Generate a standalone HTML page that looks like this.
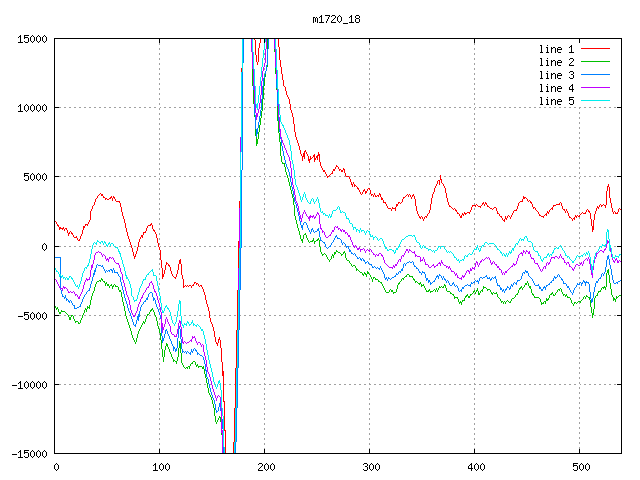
<!DOCTYPE html><html><head><meta charset="utf-8"><title>m1720_18</title><style>html,body{margin:0;padding:0;background:#fff;width:640px;height:480px;overflow:hidden}svg{display:block}</style></head><body><svg width="640" height="480" viewBox="0 0 640 480" shape-rendering="crispEdges"><path fill="#a0a0a0" d="M159 43h1v2h-1zM369 43h1v2h-1zM474 43h1v2h-1zM159 48h1v2h-1zM369 48h1v2h-1zM474 48h1v2h-1zM159 53h1v2h-1zM264 53h1v2h-1zM369 53h1v2h-1zM474 53h1v2h-1zM159 58h1v2h-1zM264 58h1v2h-1zM369 58h1v2h-1zM474 58h1v2h-1zM159 63h1v2h-1zM369 63h1v2h-1zM474 63h1v2h-1zM159 68h1v2h-1zM264 68h1v2h-1zM369 68h1v2h-1zM474 68h1v2h-1zM264 73h1v1h-1zM159 73h1v2h-1zM369 73h1v2h-1zM474 73h1v2h-1zM159 78h1v2h-1zM369 78h1v2h-1zM474 78h1v2h-1zM159 83h1v2h-1zM369 83h1v2h-1zM474 83h1v2h-1zM159 88h1v2h-1zM264 88h1v2h-1zM369 88h1v2h-1zM474 88h1v2h-1zM159 93h1v2h-1zM264 93h1v2h-1zM369 93h1v2h-1zM474 93h1v2h-1zM159 98h1v2h-1zM264 98h1v2h-1zM369 98h1v2h-1zM474 98h1v2h-1zM159 103h1v2h-1zM264 103h1v2h-1zM369 103h1v2h-1zM474 103h1v2h-1zM59 107h2v1h-2zM64 107h2v1h-2zM69 107h2v1h-2zM74 107h2v1h-2zM79 107h2v1h-2zM84 107h2v1h-2zM89 107h2v1h-2zM94 107h2v1h-2zM99 107h2v1h-2zM104 107h2v1h-2zM109 107h2v1h-2zM114 107h2v1h-2zM119 107h2v1h-2zM124 107h2v1h-2zM129 107h2v1h-2zM134 107h2v1h-2zM139 107h2v1h-2zM144 107h2v1h-2zM149 107h2v1h-2zM154 107h2v1h-2zM160 107h1v1h-1zM164 107h2v1h-2zM169 107h2v1h-2zM174 107h2v1h-2zM179 107h2v1h-2zM184 107h2v1h-2zM189 107h2v1h-2zM194 107h2v1h-2zM199 107h2v1h-2zM204 107h2v1h-2zM209 107h2v1h-2zM214 107h2v1h-2zM219 107h2v1h-2zM224 107h2v1h-2zM229 107h2v1h-2zM234 107h2v1h-2zM239 107h2v1h-2zM244 107h2v1h-2zM249 107h2v1h-2zM260 107h1v1h-1zM265 107h1v1h-1zM269 107h2v1h-2zM274 107h2v1h-2zM280 107h1v1h-1zM284 107h2v1h-2zM289 107h1v1h-1zM294 107h2v1h-2zM299 107h2v1h-2zM304 107h2v1h-2zM309 107h2v1h-2zM314 107h2v1h-2zM319 107h2v1h-2zM324 107h2v1h-2zM329 107h2v1h-2zM334 107h2v1h-2zM339 107h2v1h-2zM344 107h2v1h-2zM349 107h2v1h-2zM354 107h2v1h-2zM359 107h2v1h-2zM364 107h2v1h-2zM370 107h1v1h-1zM374 107h2v1h-2zM379 107h2v1h-2zM384 107h2v1h-2zM389 107h2v1h-2zM394 107h2v1h-2zM399 107h2v1h-2zM404 107h2v1h-2zM409 107h2v1h-2zM414 107h2v1h-2zM419 107h2v1h-2zM424 107h2v1h-2zM429 107h2v1h-2zM434 107h2v1h-2zM439 107h2v1h-2zM444 107h2v1h-2zM449 107h2v1h-2zM454 107h2v1h-2zM459 107h2v1h-2zM464 107h2v1h-2zM469 107h2v1h-2zM475 107h1v1h-1zM479 107h2v1h-2zM484 107h2v1h-2zM489 107h2v1h-2zM494 107h2v1h-2zM499 107h2v1h-2zM504 107h2v1h-2zM509 107h2v1h-2zM514 107h2v1h-2zM519 107h2v1h-2zM524 107h2v1h-2zM529 107h2v1h-2zM534 107h2v1h-2zM539 107h2v1h-2zM544 107h2v1h-2zM549 107h2v1h-2zM554 107h2v1h-2zM559 107h2v1h-2zM564 107h2v1h-2zM569 107h2v1h-2zM574 107h2v1h-2zM579 107h2v1h-2zM584 107h2v1h-2zM589 107h2v1h-2zM594 107h2v1h-2zM599 107h2v1h-2zM604 107h2v1h-2zM609 107h2v1h-2zM614 107h2v1h-2zM579 108h1v1h-1zM159 108h1v2h-1zM264 108h1v2h-1zM369 108h1v2h-1zM474 108h1v2h-1zM579 112h1v2h-1zM159 113h1v2h-1zM264 113h1v2h-1zM369 113h1v2h-1zM474 113h1v2h-1zM579 117h1v2h-1zM159 118h1v2h-1zM264 118h1v2h-1zM369 118h1v2h-1zM474 118h1v2h-1zM579 122h1v2h-1zM159 123h1v2h-1zM264 123h1v2h-1zM369 123h1v2h-1zM474 123h1v2h-1zM579 127h1v2h-1zM159 128h1v2h-1zM264 128h1v2h-1zM369 128h1v2h-1zM474 128h1v2h-1zM579 132h1v2h-1zM159 133h1v2h-1zM264 133h1v2h-1zM369 133h1v2h-1zM474 133h1v2h-1zM579 137h1v2h-1zM159 138h1v2h-1zM264 138h1v2h-1zM369 138h1v2h-1zM474 138h1v2h-1zM579 142h1v2h-1zM159 143h1v2h-1zM264 143h1v2h-1zM369 143h1v2h-1zM474 143h1v2h-1zM579 147h1v2h-1zM159 148h1v2h-1zM264 148h1v2h-1zM369 148h1v2h-1zM474 148h1v2h-1zM579 152h1v2h-1zM159 153h1v2h-1zM264 153h1v2h-1zM369 153h1v2h-1zM474 153h1v2h-1zM579 157h1v2h-1zM159 158h1v2h-1zM264 158h1v2h-1zM369 158h1v2h-1zM474 158h1v2h-1zM579 162h1v2h-1zM159 163h1v2h-1zM264 163h1v2h-1zM369 163h1v2h-1zM474 163h1v2h-1zM579 167h1v2h-1zM159 168h1v2h-1zM264 168h1v2h-1zM369 168h1v2h-1zM474 168h1v2h-1zM579 172h1v2h-1zM159 173h1v2h-1zM264 173h1v2h-1zM369 173h1v2h-1zM474 173h1v2h-1zM59 176h2v1h-2zM64 176h2v1h-2zM69 176h2v1h-2zM74 176h2v1h-2zM79 176h2v1h-2zM84 176h2v1h-2zM89 176h2v1h-2zM94 176h2v1h-2zM99 176h2v1h-2zM104 176h2v1h-2zM109 176h2v1h-2zM114 176h2v1h-2zM119 176h2v1h-2zM124 176h2v1h-2zM129 176h2v1h-2zM134 176h2v1h-2zM139 176h2v1h-2zM144 176h2v1h-2zM149 176h2v1h-2zM154 176h2v1h-2zM160 176h1v1h-1zM164 176h2v1h-2zM169 176h2v1h-2zM174 176h2v1h-2zM179 176h2v1h-2zM184 176h2v1h-2zM189 176h2v1h-2zM194 176h2v1h-2zM199 176h2v1h-2zM204 176h2v1h-2zM209 176h2v1h-2zM214 176h2v1h-2zM219 176h2v1h-2zM224 176h2v1h-2zM229 176h2v1h-2zM234 176h2v1h-2zM239 176h1v1h-1zM244 176h2v1h-2zM249 176h2v1h-2zM254 176h2v1h-2zM259 176h2v1h-2zM265 176h1v1h-1zM269 176h2v1h-2zM274 176h2v1h-2zM279 176h2v1h-2zM284 176h2v1h-2zM289 176h1v1h-1zM295 176h1v1h-1zM299 176h2v1h-2zM304 176h2v1h-2zM309 176h2v1h-2zM314 176h2v1h-2zM319 176h2v1h-2zM324 176h2v1h-2zM329 176h2v1h-2zM334 176h2v1h-2zM339 176h2v1h-2zM344 176h2v1h-2zM349 176h2v1h-2zM354 176h2v1h-2zM359 176h2v1h-2zM364 176h2v1h-2zM370 176h1v1h-1zM374 176h2v1h-2zM379 176h2v1h-2zM384 176h2v1h-2zM389 176h2v1h-2zM394 176h2v1h-2zM399 176h2v1h-2zM404 176h2v1h-2zM409 176h2v1h-2zM414 176h2v1h-2zM419 176h2v1h-2zM424 176h2v1h-2zM429 176h2v1h-2zM434 176h2v1h-2zM439 176h1v1h-1zM444 176h2v1h-2zM449 176h2v1h-2zM454 176h2v1h-2zM459 176h2v1h-2zM464 176h2v1h-2zM469 176h2v1h-2zM475 176h1v1h-1zM479 176h2v1h-2zM484 176h2v1h-2zM489 176h2v1h-2zM494 176h2v1h-2zM499 176h2v1h-2zM504 176h2v1h-2zM509 176h2v1h-2zM514 176h2v1h-2zM519 176h2v1h-2zM524 176h2v1h-2zM529 176h2v1h-2zM534 176h2v1h-2zM539 176h2v1h-2zM544 176h2v1h-2zM549 176h2v1h-2zM554 176h2v1h-2zM559 176h2v1h-2zM564 176h2v1h-2zM569 176h2v1h-2zM574 176h2v1h-2zM580 176h1v1h-1zM584 176h2v1h-2zM589 176h2v1h-2zM594 176h2v1h-2zM599 176h2v1h-2zM604 176h2v1h-2zM609 176h2v1h-2zM614 176h2v1h-2zM579 177h1v2h-1zM159 178h1v2h-1zM264 178h1v2h-1zM369 178h1v2h-1zM474 178h1v2h-1zM579 182h1v2h-1zM159 183h1v2h-1zM264 183h1v2h-1zM369 183h1v2h-1zM474 183h1v2h-1zM579 187h1v2h-1zM159 188h1v2h-1zM264 188h1v2h-1zM474 188h1v2h-1zM579 192h1v2h-1zM159 193h1v2h-1zM264 193h1v2h-1zM369 193h1v2h-1zM474 193h1v2h-1zM579 197h1v2h-1zM159 198h1v2h-1zM264 198h1v2h-1zM369 198h1v2h-1zM474 198h1v2h-1zM579 202h1v2h-1zM159 203h1v2h-1zM264 203h1v2h-1zM369 203h1v2h-1zM474 203h1v2h-1zM579 207h1v2h-1zM159 208h1v2h-1zM264 208h1v2h-1zM369 208h1v2h-1zM474 208h1v2h-1zM579 212h1v2h-1zM159 213h1v2h-1zM264 213h1v2h-1zM369 213h1v2h-1zM474 213h1v2h-1zM579 217h1v2h-1zM159 218h1v2h-1zM264 218h1v2h-1zM369 218h1v2h-1zM474 218h1v2h-1zM579 222h1v2h-1zM159 223h1v2h-1zM264 223h1v2h-1zM369 223h1v2h-1zM474 223h1v2h-1zM579 227h1v2h-1zM159 228h1v2h-1zM264 228h1v2h-1zM369 228h1v2h-1zM474 228h1v2h-1zM579 232h1v2h-1zM159 233h1v2h-1zM264 233h1v2h-1zM369 234h1v1h-1zM474 233h1v2h-1zM579 237h1v2h-1zM159 238h1v2h-1zM264 238h1v2h-1zM369 238h1v2h-1zM474 238h1v2h-1zM579 242h1v2h-1zM159 243h1v2h-1zM264 243h1v2h-1zM369 243h1v2h-1zM474 243h1v2h-1zM59 246h2v1h-2zM64 246h2v1h-2zM69 246h2v1h-2zM74 246h2v1h-2zM79 246h2v1h-2zM84 246h2v1h-2zM89 246h2v1h-2zM94 246h2v1h-2zM99 246h2v1h-2zM104 246h2v1h-2zM109 246h2v1h-2zM115 246h1v1h-1zM119 246h2v1h-2zM124 246h2v1h-2zM129 246h2v1h-2zM134 246h2v1h-2zM139 246h2v1h-2zM144 246h2v1h-2zM149 246h2v1h-2zM154 246h2v1h-2zM160 246h1v1h-1zM164 246h2v1h-2zM169 246h2v1h-2zM174 246h2v1h-2zM179 246h2v1h-2zM184 246h2v1h-2zM189 246h2v1h-2zM194 246h2v1h-2zM199 246h2v1h-2zM204 246h2v1h-2zM209 246h2v1h-2zM214 246h2v1h-2zM219 246h2v1h-2zM224 246h2v1h-2zM229 246h2v1h-2zM234 246h2v1h-2zM244 246h2v1h-2zM249 246h2v1h-2zM254 246h2v1h-2zM259 246h2v1h-2zM265 246h1v1h-1zM269 246h2v1h-2zM274 246h2v1h-2zM279 246h2v1h-2zM284 246h2v1h-2zM289 246h2v1h-2zM294 246h2v1h-2zM299 246h2v1h-2zM304 246h2v1h-2zM309 246h2v1h-2zM314 246h2v1h-2zM320 246h1v1h-1zM324 246h1v1h-1zM334 246h2v1h-2zM339 246h2v1h-2zM344 246h2v1h-2zM349 246h2v1h-2zM355 246h1v1h-1zM359 246h2v1h-2zM364 246h2v1h-2zM370 246h1v1h-1zM374 246h2v1h-2zM379 246h2v1h-2zM385 246h1v1h-1zM389 246h2v1h-2zM394 246h2v1h-2zM400 246h1v1h-1zM404 246h2v1h-2zM409 246h2v1h-2zM414 246h2v1h-2zM419 246h1v1h-1zM425 246h1v1h-1zM429 246h2v1h-2zM434 246h2v1h-2zM440 246h1v1h-1zM444 246h2v1h-2zM449 246h2v1h-2zM454 246h2v1h-2zM459 246h2v1h-2zM464 246h2v1h-2zM469 246h2v1h-2zM475 246h1v1h-1zM479 246h2v1h-2zM484 246h2v1h-2zM489 246h2v1h-2zM494 246h2v1h-2zM499 246h2v1h-2zM504 246h2v1h-2zM509 246h2v1h-2zM515 246h1v1h-1zM519 246h2v1h-2zM524 246h2v1h-2zM529 246h2v1h-2zM534 246h2v1h-2zM539 246h2v1h-2zM544 246h2v1h-2zM549 246h2v1h-2zM554 246h2v1h-2zM560 246h1v1h-1zM564 246h2v1h-2zM569 246h2v1h-2zM574 246h2v1h-2zM580 246h1v1h-1zM584 246h2v1h-2zM589 246h2v1h-2zM594 246h2v1h-2zM599 246h1v1h-1zM604 246h1v1h-1zM614 246h2v1h-2zM474 248h1v1h-1zM579 247h1v2h-1zM264 248h1v2h-1zM369 248h1v2h-1zM579 252h1v2h-1zM159 253h1v2h-1zM264 253h1v2h-1zM369 253h1v2h-1zM474 253h1v2h-1zM579 257h1v2h-1zM159 258h1v2h-1zM264 258h1v2h-1zM369 258h1v2h-1zM474 258h1v2h-1zM369 263h1v1h-1zM579 262h1v2h-1zM159 263h1v2h-1zM264 263h1v2h-1zM474 263h1v2h-1zM579 267h1v2h-1zM159 268h1v2h-1zM264 268h1v2h-1zM369 268h1v2h-1zM369 273h1v1h-1zM579 272h1v2h-1zM159 273h1v2h-1zM264 273h1v2h-1zM474 273h1v2h-1zM579 277h1v2h-1zM159 278h1v2h-1zM264 278h1v2h-1zM369 278h1v2h-1zM474 278h1v2h-1zM579 282h1v1h-1zM159 283h1v2h-1zM264 283h1v2h-1zM369 283h1v2h-1zM474 283h1v2h-1zM579 287h1v2h-1zM159 288h1v2h-1zM264 288h1v2h-1zM369 288h1v2h-1zM474 288h1v2h-1zM579 292h1v2h-1zM264 293h1v2h-1zM369 293h1v2h-1zM474 293h1v2h-1zM579 297h1v2h-1zM159 298h1v2h-1zM264 298h1v2h-1zM369 298h1v2h-1zM474 298h1v2h-1zM579 302h1v2h-1zM264 303h1v2h-1zM369 303h1v2h-1zM474 303h1v2h-1zM579 307h1v2h-1zM159 308h1v2h-1zM264 308h1v2h-1zM369 308h1v2h-1zM474 308h1v2h-1zM579 312h1v2h-1zM264 313h1v2h-1zM369 313h1v2h-1zM474 313h1v2h-1zM59 315h2v1h-2zM64 315h2v1h-2zM69 315h2v1h-2zM74 315h2v1h-2zM79 315h2v1h-2zM84 315h2v1h-2zM89 315h2v1h-2zM94 315h2v1h-2zM99 315h2v1h-2zM104 315h2v1h-2zM109 315h2v1h-2zM114 315h2v1h-2zM119 315h2v1h-2zM124 315h1v1h-1zM129 315h1v1h-1zM135 315h1v1h-1zM140 315h1v1h-1zM144 315h2v1h-2zM149 315h2v1h-2zM154 315h1v1h-1zM164 315h2v1h-2zM169 315h1v1h-1zM174 315h2v1h-2zM179 315h1v1h-1zM184 315h2v1h-2zM189 315h2v1h-2zM194 315h2v1h-2zM199 315h2v1h-2zM204 315h2v1h-2zM210 315h1v1h-1zM214 315h2v1h-2zM219 315h2v1h-2zM224 315h2v1h-2zM229 315h2v1h-2zM234 315h2v1h-2zM240 315h1v1h-1zM244 315h2v1h-2zM249 315h2v1h-2zM254 315h2v1h-2zM259 315h2v1h-2zM265 315h1v1h-1zM269 315h2v1h-2zM274 315h2v1h-2zM279 315h2v1h-2zM284 315h2v1h-2zM289 315h2v1h-2zM294 315h2v1h-2zM299 315h2v1h-2zM304 315h2v1h-2zM309 315h2v1h-2zM314 315h2v1h-2zM319 315h2v1h-2zM324 315h2v1h-2zM329 315h2v1h-2zM334 315h2v1h-2zM339 315h2v1h-2zM344 315h2v1h-2zM349 315h2v1h-2zM354 315h2v1h-2zM359 315h2v1h-2zM364 315h2v1h-2zM370 315h1v1h-1zM374 315h2v1h-2zM379 315h2v1h-2zM384 315h2v1h-2zM389 315h2v1h-2zM394 315h2v1h-2zM399 315h2v1h-2zM404 315h2v1h-2zM409 315h2v1h-2zM414 315h2v1h-2zM419 315h2v1h-2zM424 315h2v1h-2zM429 315h2v1h-2zM434 315h2v1h-2zM439 315h2v1h-2zM444 315h2v1h-2zM449 315h2v1h-2zM454 315h2v1h-2zM459 315h2v1h-2zM464 315h2v1h-2zM469 315h2v1h-2zM475 315h1v1h-1zM479 315h2v1h-2zM484 315h2v1h-2zM489 315h2v1h-2zM494 315h2v1h-2zM499 315h2v1h-2zM504 315h2v1h-2zM509 315h2v1h-2zM514 315h2v1h-2zM519 315h2v1h-2zM524 315h2v1h-2zM529 315h2v1h-2zM534 315h2v1h-2zM539 315h2v1h-2zM544 315h2v1h-2zM549 315h2v1h-2zM554 315h2v1h-2zM559 315h2v1h-2zM564 315h2v1h-2zM569 315h2v1h-2zM574 315h2v1h-2zM580 315h1v1h-1zM584 315h2v1h-2zM589 315h2v1h-2zM594 315h2v1h-2zM599 315h2v1h-2zM604 315h2v1h-2zM609 315h2v1h-2zM614 315h2v1h-2zM579 317h1v2h-1zM159 318h1v2h-1zM264 318h1v2h-1zM369 318h1v2h-1zM474 318h1v2h-1zM579 322h1v2h-1zM159 323h1v2h-1zM264 323h1v2h-1zM369 323h1v2h-1zM474 323h1v2h-1zM159 328h1v1h-1zM579 327h1v2h-1zM264 328h1v2h-1zM369 328h1v2h-1zM474 328h1v2h-1zM579 332h1v2h-1zM159 333h1v2h-1zM264 333h1v2h-1zM369 333h1v2h-1zM474 333h1v2h-1zM579 337h1v2h-1zM159 338h1v2h-1zM264 338h1v2h-1zM369 338h1v2h-1zM474 338h1v2h-1zM579 342h1v2h-1zM159 343h1v2h-1zM264 343h1v2h-1zM369 343h1v2h-1zM474 343h1v2h-1zM579 347h1v2h-1zM159 348h1v2h-1zM264 348h1v2h-1zM369 348h1v2h-1zM474 348h1v2h-1zM579 352h1v2h-1zM159 353h1v2h-1zM264 353h1v2h-1zM369 353h1v2h-1zM474 353h1v2h-1zM579 357h1v2h-1zM159 358h1v2h-1zM264 358h1v2h-1zM369 358h1v2h-1zM474 358h1v2h-1zM579 362h1v2h-1zM159 363h1v2h-1zM264 363h1v2h-1zM369 363h1v2h-1zM474 363h1v2h-1zM579 367h1v2h-1zM159 368h1v2h-1zM264 368h1v2h-1zM369 368h1v2h-1zM474 368h1v2h-1zM579 372h1v2h-1zM159 373h1v2h-1zM264 373h1v2h-1zM369 373h1v2h-1zM474 373h1v2h-1zM579 377h1v2h-1zM159 378h1v2h-1zM264 378h1v2h-1zM369 378h1v2h-1zM474 378h1v2h-1zM159 383h1v1h-1zM264 383h1v1h-1zM369 383h1v1h-1zM474 383h1v1h-1zM579 382h1v2h-1zM59 384h2v1h-2zM64 384h2v1h-2zM69 384h2v1h-2zM74 384h2v1h-2zM79 384h2v1h-2zM84 384h2v1h-2zM89 384h2v1h-2zM94 384h2v1h-2zM99 384h2v1h-2zM104 384h2v1h-2zM109 384h2v1h-2zM114 384h2v1h-2zM119 384h2v1h-2zM124 384h2v1h-2zM129 384h2v1h-2zM134 384h2v1h-2zM139 384h2v1h-2zM144 384h2v1h-2zM149 384h2v1h-2zM154 384h2v1h-2zM159 384h2v1h-2zM164 384h2v1h-2zM169 384h2v1h-2zM174 384h2v1h-2zM179 384h2v1h-2zM184 384h2v1h-2zM189 384h2v1h-2zM194 384h2v1h-2zM199 384h2v1h-2zM204 384h2v1h-2zM210 384h1v1h-1zM214 384h1v1h-1zM219 384h1v1h-1zM224 384h2v1h-2zM229 384h2v1h-2zM234 384h1v1h-1zM239 384h2v1h-2zM244 384h2v1h-2zM249 384h2v1h-2zM254 384h2v1h-2zM259 384h2v1h-2zM264 384h2v1h-2zM269 384h2v1h-2zM274 384h2v1h-2zM279 384h2v1h-2zM284 384h2v1h-2zM289 384h2v1h-2zM294 384h2v1h-2zM299 384h2v1h-2zM304 384h2v1h-2zM309 384h2v1h-2zM314 384h2v1h-2zM319 384h2v1h-2zM324 384h2v1h-2zM329 384h2v1h-2zM334 384h2v1h-2zM339 384h2v1h-2zM344 384h2v1h-2zM349 384h2v1h-2zM354 384h2v1h-2zM359 384h2v1h-2zM364 384h2v1h-2zM369 384h2v1h-2zM374 384h2v1h-2zM379 384h2v1h-2zM384 384h2v1h-2zM389 384h2v1h-2zM394 384h2v1h-2zM399 384h2v1h-2zM404 384h2v1h-2zM409 384h2v1h-2zM414 384h2v1h-2zM419 384h2v1h-2zM424 384h2v1h-2zM429 384h2v1h-2zM434 384h2v1h-2zM439 384h2v1h-2zM444 384h2v1h-2zM449 384h2v1h-2zM454 384h2v1h-2zM459 384h2v1h-2zM464 384h2v1h-2zM469 384h2v1h-2zM474 384h2v1h-2zM479 384h2v1h-2zM484 384h2v1h-2zM489 384h2v1h-2zM494 384h2v1h-2zM499 384h2v1h-2zM504 384h2v1h-2zM509 384h2v1h-2zM514 384h2v1h-2zM519 384h2v1h-2zM524 384h2v1h-2zM529 384h2v1h-2zM534 384h2v1h-2zM539 384h2v1h-2zM544 384h2v1h-2zM549 384h2v1h-2zM554 384h2v1h-2zM559 384h2v1h-2zM564 384h2v1h-2zM569 384h2v1h-2zM574 384h2v1h-2zM580 384h1v1h-1zM584 384h2v1h-2zM589 384h2v1h-2zM594 384h2v1h-2zM599 384h2v1h-2zM604 384h2v1h-2zM609 384h2v1h-2zM614 384h2v1h-2zM579 387h1v2h-1zM159 388h1v2h-1zM264 388h1v2h-1zM369 388h1v2h-1zM474 388h1v2h-1zM579 392h1v2h-1zM159 393h1v2h-1zM264 393h1v2h-1zM369 393h1v2h-1zM474 393h1v2h-1zM579 397h1v2h-1zM159 398h1v2h-1zM264 398h1v2h-1zM369 398h1v2h-1zM474 398h1v2h-1zM579 402h1v2h-1zM159 403h1v2h-1zM264 403h1v2h-1zM369 403h1v2h-1zM474 403h1v2h-1zM579 407h1v2h-1zM159 408h1v2h-1zM264 408h1v2h-1zM369 408h1v2h-1zM474 408h1v2h-1zM579 412h1v2h-1zM159 413h1v2h-1zM264 413h1v2h-1zM369 413h1v2h-1zM474 413h1v2h-1zM579 417h1v2h-1zM159 418h1v2h-1zM264 418h1v2h-1zM369 418h1v2h-1zM474 418h1v2h-1zM579 422h1v2h-1zM159 423h1v2h-1zM264 423h1v2h-1zM369 423h1v2h-1zM474 423h1v2h-1zM579 427h1v2h-1zM159 428h1v2h-1zM264 428h1v2h-1zM369 428h1v2h-1zM474 428h1v2h-1zM579 432h1v2h-1zM159 433h1v2h-1zM264 433h1v2h-1zM369 433h1v2h-1zM474 433h1v2h-1zM579 437h1v2h-1zM159 438h1v2h-1zM264 438h1v2h-1zM369 438h1v2h-1zM474 438h1v2h-1zM579 442h1v2h-1zM159 443h1v2h-1zM264 443h1v2h-1zM369 443h1v2h-1zM474 443h1v2h-1zM159 448h1v1h-1zM264 448h1v1h-1zM369 448h1v1h-1zM474 448h1v1h-1zM579 447h1v2h-1z"/><path fill="#ff0000" d="M254 39h1v1h-1zM260 39h1v4h-1zM278 39h1v8h-1zM259 43h1v5h-1zM581 48h29v1h-29zM255 40h1v15h-1zM279 47h1v13h-1zM256 55h1v7h-1zM258 48h1v14h-1zM257 62h1v3h-1zM280 60h1v7h-1zM241 68h1v4h-1zM281 67h1v7h-1zM282 74h1v6h-1zM283 80h1v6h-1zM284 86h1v1h-1zM285 87h1v4h-1zM286 91h1v4h-1zM287 95h1v2h-1zM288 97h1v2h-1zM289 99h1v5h-1zM290 104h1v6h-1zM291 110h1v3h-1zM292 113h1v4h-1zM293 117h1v7h-1zM294 124h1v8h-1zM295 132h1v5h-1zM296 137h1v3h-1zM297 140h1v3h-1zM298 143h1v3h-1zM299 146h1v4h-1zM305 150h1v1h-1zM304 151h2v1h-2zM304 152h1v1h-1zM300 150h1v4h-1zM306 152h1v2h-1zM318 152h1v2h-1zM314 154h1v1h-1zM318 154h2v1h-2zM301 154h1v2h-1zM303 153h2v3h-2zM307 154h1v2h-1zM317 155h3v1h-3zM302 156h3v1h-3zM313 155h2v2h-2zM310 156h1v2h-1zM312 157h1v1h-1zM314 157h1v1h-1zM316 156h2v2h-2zM304 157h1v2h-1zM308 156h1v3h-1zM310 158h2v1h-2zM308 159h3v1h-3zM314 158h2v2h-2zM317 158h1v2h-1zM302 157h1v4h-1zM308 160h2v1h-2zM314 160h1v2h-1zM319 156h1v6h-1zM309 161h1v2h-1zM320 162h1v4h-1zM336 165h1v1h-1zM336 166h2v1h-2zM321 166h1v2h-1zM335 167h1v2h-1zM338 167h1v2h-1zM343 168h1v1h-1zM322 168h1v2h-1zM339 169h2v1h-2zM343 169h2v1h-2zM333 169h2v2h-2zM339 170h1v1h-1zM323 170h2v2h-2zM341 170h2v2h-2zM332 171h1v2h-1zM344 170h1v3h-1zM325 172h1v2h-1zM331 173h2v1h-2zM330 174h1v1h-1zM326 174h1v2h-1zM329 175h1v1h-1zM345 173h1v3h-1zM327 176h2v1h-2zM346 176h3v1h-3zM327 177h1v1h-1zM349 177h1v2h-1zM440 175h1v4h-1zM440 179h2v1h-2zM438 180h2v1h-2zM350 179h1v3h-1zM441 180h1v3h-1zM351 182h1v2h-1zM353 182h1v2h-1zM437 181h1v3h-1zM442 183h1v1h-1zM351 184h2v1h-2zM354 184h1v1h-1zM439 181h1v4h-1zM354 185h2v1h-2zM436 184h1v2h-1zM443 184h1v2h-1zM608 184h1v2h-1zM352 185h1v2h-1zM354 186h1v1h-1zM356 186h1v1h-1zM607 186h2v1h-2zM357 187h1v1h-1zM435 186h1v2h-1zM444 186h1v2h-1zM357 188h2v1h-2zM368 188h2v1h-2zM358 189h1v1h-1zM364 189h1v1h-1zM369 189h1v1h-1zM363 190h2v1h-2zM367 189h1v2h-1zM607 187h1v4h-1zM359 190h1v2h-1zM363 191h1v1h-1zM434 188h1v4h-1zM365 191h2v2h-2zM445 188h1v5h-1zM100 193h1v1h-1zM360 192h1v2h-1zM362 192h1v2h-1zM365 193h1v1h-1zM370 190h1v4h-1zM379 193h1v1h-1zM433 192h1v2h-1zM99 194h1v1h-1zM361 194h1v1h-1zM371 194h2v1h-2zM374 193h1v2h-1zM379 194h2v1h-2zM407 194h1v1h-1zM409 194h1v1h-1zM413 194h1v1h-1zM98 195h1v1h-1zM101 194h2v2h-2zM371 195h1v1h-1zM375 195h1v1h-1zM377 195h2v1h-2zM406 195h1v1h-1zM412 195h2v1h-2zM103 196h1v1h-1zM111 196h1v1h-1zM113 196h1v1h-1zM373 195h1v2h-1zM375 196h2v1h-2zM378 196h1v1h-1zM380 195h1v2h-1zM405 196h1v1h-1zM408 195h1v2h-1zM410 195h1v2h-1zM412 196h1v1h-1zM523 196h1v1h-1zM97 196h1v2h-1zM103 197h2v1h-2zM110 197h2v1h-2zM113 197h2v1h-2zM381 197h1v1h-1zM403 197h2v1h-2zM432 194h1v4h-1zM446 193h1v5h-1zM523 197h3v1h-3zM609 187h1v11h-1zM96 198h1v1h-1zM105 198h2v1h-2zM109 198h2v1h-2zM114 198h1v1h-1zM403 198h1v1h-1zM411 197h1v2h-1zM414 196h1v3h-1zM523 198h2v1h-2zM526 198h1v1h-1zM105 199h1v1h-1zM107 199h2v1h-2zM381 198h2v2h-2zM112 198h1v3h-1zM115 199h1v2h-1zM522 199h1v2h-1zM527 199h1v2h-1zM529 200h1v1h-1zM95 199h1v3h-1zM116 201h4v1h-4zM383 200h1v2h-1zM402 199h1v3h-1zM447 198h1v4h-1zM520 201h3v1h-3zM528 201h1v1h-1zM530 201h1v1h-1zM119 202h1v1h-1zM383 202h3v1h-3zM398 202h2v1h-2zM401 202h1v1h-1zM483 202h1v1h-1zM485 202h1v1h-1zM519 202h1v1h-1zM530 202h2v1h-2zM560 202h1v1h-1zM610 198h1v5h-1zM385 203h1v1h-1zM398 203h1v1h-1zM400 203h1v1h-1zM431 198h1v6h-1zM482 203h2v1h-2zM485 203h2v1h-2zM531 203h1v1h-1zM559 203h1v1h-1zM94 202h1v3h-1zM448 202h1v3h-1zM476 204h1v1h-1zM482 204h1v1h-1zM486 204h1v1h-1zM556 204h4v1h-4zM600 204h1v1h-1zM603 204h1v1h-1zM606 191h1v14h-1zM93 205h1v1h-1zM386 204h1v2h-1zM396 204h2v2h-2zM415 199h1v7h-1zM449 205h1v1h-1zM472 205h4v1h-4zM477 205h1v1h-1zM481 205h1v1h-1zM484 204h1v2h-1zM487 205h1v1h-1zM518 203h1v3h-1zM553 205h3v1h-3zM561 203h1v3h-1zM601 205h2v1h-2zM604 205h2v1h-2zM120 203h1v4h-1zM396 206h1v1h-1zM449 206h2v1h-2zM472 206h1v1h-1zM475 206h1v1h-1zM478 206h3v1h-3zM487 206h2v1h-2zM532 204h1v3h-1zM553 206h1v1h-1zM597 206h1v1h-1zM599 205h1v2h-1zM601 206h1v1h-1zM239 201h1v7h-1zM387 206h1v2h-1zM392 207h1v1h-1zM395 207h1v1h-1zM451 207h1v1h-1zM480 207h1v1h-1zM489 207h1v1h-1zM494 207h2v1h-2zM533 207h2v1h-2zM552 207h1v1h-1zM597 207h2v1h-2zM605 206h1v2h-1zM611 203h1v5h-1zM92 206h1v3h-1zM388 208h3v1h-3zM392 208h4v1h-4zM452 208h1v1h-1zM454 208h1v1h-1zM490 208h2v1h-2zM493 208h1v1h-1zM517 206h1v3h-1zM533 208h1v1h-1zM551 208h2v1h-2zM562 206h1v3h-1zM598 208h1v1h-1zM619 208h1v1h-1zM430 204h1v6h-1zM453 209h1v1h-1zM455 209h1v1h-1zM471 207h1v3h-1zM492 209h1v1h-1zM516 209h1v1h-1zM535 208h1v2h-1zM550 209h1v1h-1zM552 209h1v1h-1zM563 209h2v1h-2zM587 209h1v1h-1zM620 209h1v1h-1zM91 209h1v2h-1zM391 209h1v2h-1zM395 209h1v2h-1zM416 206h1v5h-1zM455 210h2v1h-2zM496 208h1v3h-1zM514 210h3v1h-3zM536 210h1v1h-1zM564 210h1v1h-1zM566 209h1v2h-1zM588 210h1v1h-1zM596 208h1v3h-1zM121 207h1v5h-1zM456 211h1v1h-1zM470 210h1v2h-1zM537 211h1v1h-1zM547 211h1v1h-1zM549 210h1v2h-1zM586 210h1v2h-1zM588 211h2v1h-2zM612 208h1v4h-1zM614 211h1v1h-1zM618 209h1v3h-1zM429 210h1v3h-1zM457 212h1v1h-1zM464 212h1v1h-1zM467 212h3v1h-3zM497 211h1v2h-1zM513 211h1v2h-1zM547 212h2v1h-2zM565 211h1v2h-1zM567 211h1v2h-1zM582 212h1v1h-1zM585 212h1v1h-1zM589 212h1v1h-1zM615 212h1v1h-1zM617 212h1v1h-1zM417 211h1v3h-1zM428 213h1v1h-1zM457 213h2v1h-2zM462 213h1v1h-1zM464 213h3v1h-3zM469 213h1v1h-1zM497 213h2v1h-2zM538 212h1v2h-1zM546 213h1v1h-1zM548 213h1v1h-1zM581 213h1v1h-1zM583 213h3v1h-3zM595 211h1v3h-1zM613 212h1v2h-1zM615 213h3v1h-3zM462 214h2v1h-2zM465 214h1v1h-1zM512 213h1v2h-1zM539 214h1v1h-1zM545 214h2v1h-2zM580 214h1v1h-1zM122 212h1v4h-1zM418 214h1v2h-1zM427 214h1v2h-1zM459 214h1v2h-1zM461 215h1v1h-1zM463 215h1v1h-1zM499 214h1v2h-1zM508 215h1v1h-1zM539 215h2v1h-2zM544 215h1v1h-1zM546 215h1v1h-1zM568 213h1v3h-1zM575 215h1v1h-1zM577 215h1v1h-1zM579 215h1v1h-1zM419 216h1v1h-1zM421 216h1v1h-1zM425 216h2v1h-2zM500 216h2v1h-2zM509 216h1v1h-1zM511 215h1v2h-1zM541 216h3v1h-3zM569 216h1v1h-1zM575 216h2v1h-2zM578 216h2v1h-2zM419 217h2v1h-2zM426 217h1v1h-1zM460 216h2v2h-2zM501 217h1v1h-1zM505 216h1v2h-1zM507 216h1v2h-1zM543 217h1v1h-1zM569 217h2v1h-2zM574 217h1v1h-1zM576 217h1v1h-1zM123 216h1v3h-1zM420 218h1v1h-1zM422 217h1v2h-1zM424 217h1v2h-1zM505 218h2v1h-2zM510 217h1v2h-1zM571 218h1v1h-1zM573 218h2v1h-2zM590 213h1v6h-1zM90 211h1v9h-1zM502 218h1v2h-1zM504 219h1v1h-1zM506 219h1v1h-1zM574 219h1v1h-1zM594 214h1v6h-1zM423 219h1v2h-1zM503 220h2v1h-2zM572 219h1v2h-1zM55 221h1v1h-1zM89 220h1v2h-1zM504 221h1v1h-1zM124 219h1v4h-1zM56 222h1v2h-1zM88 222h1v2h-1zM151 223h1v1h-1zM57 224h1v1h-1zM85 224h3v1h-3zM150 224h2v1h-2zM57 225h2v1h-2zM85 225h1v1h-1zM87 225h1v1h-1zM148 225h3v1h-3zM591 219h1v7h-1zM593 220h1v6h-1zM58 226h1v1h-1zM59 227h2v1h-2zM63 227h1v1h-1zM83 226h2v2h-2zM125 223h1v5h-1zM147 226h1v2h-1zM59 228h5v1h-5zM65 228h2v1h-2zM152 225h1v4h-1zM59 229h1v1h-1zM62 229h1v1h-1zM66 229h1v1h-1zM83 228h1v2h-1zM153 229h1v1h-1zM592 226h2v4h-2zM64 229h1v2h-1zM146 228h1v3h-1zM153 230h2v1h-2zM70 231h1v1h-1zM126 228h1v4h-1zM145 231h1v1h-1zM154 231h1v1h-1zM592 230h1v2h-1zM67 230h1v3h-1zM69 232h1v1h-1zM71 232h1v1h-1zM143 232h3v1h-3zM68 233h2v1h-2zM71 233h2v1h-2zM82 230h1v4h-1zM155 232h1v2h-1zM72 234h1v1h-1zM143 233h1v2h-1zM68 234h1v2h-1zM81 234h1v2h-1zM127 232h1v4h-1zM73 235h1v2h-1zM76 236h1v1h-1zM141 235h2v2h-2zM74 237h3v1h-3zM142 237h1v1h-1zM156 234h1v4h-1zM80 236h1v3h-1zM128 236h1v3h-1zM140 237h1v2h-1zM77 238h1v2h-1zM79 239h1v1h-1zM78 240h2v1h-2zM129 239h1v3h-1zM139 239h1v3h-1zM157 238h1v5h-1zM130 242h1v3h-1zM138 242h1v5h-1zM158 243h1v4h-1zM131 245h1v3h-1zM159 247h1v3h-1zM137 247h1v4h-1zM132 248h1v4h-1zM136 251h1v3h-1zM133 252h1v4h-1zM135 254h1v2h-1zM134 256h2v1h-2zM134 257h1v2h-1zM160 250h1v10h-1zM180 259h1v1h-1zM166 262h1v1h-1zM166 263h2v1h-2zM179 260h2v4h-2zM166 264h1v1h-1zM168 264h1v1h-1zM168 265h2v1h-2zM169 266h1v1h-1zM161 260h1v8h-1zM238 241h1v27h-1zM165 265h1v5h-1zM178 264h1v6h-1zM170 267h1v4h-1zM162 268h1v6h-1zM164 270h1v4h-1zM171 271h1v3h-1zM177 270h1v4h-1zM181 264h1v11h-1zM172 274h1v2h-1zM162 274h2v3h-2zM173 276h1v1h-1zM176 274h1v3h-1zM174 277h2v1h-2zM162 277h1v2h-1zM175 278h1v1h-1zM182 275h1v4h-1zM194 282h2v1h-2zM194 283h1v1h-1zM196 283h2v1h-2zM193 284h1v1h-1zM196 284h1v1h-1zM183 279h1v7h-1zM185 285h1v1h-1zM187 285h1v1h-1zM189 285h2v1h-2zM192 285h2v1h-2zM198 284h1v2h-1zM200 285h2v1h-2zM183 286h2v1h-2zM186 286h1v1h-1zM188 286h1v1h-1zM199 286h1v1h-1zM201 286h1v1h-1zM183 287h1v1h-1zM191 286h1v2h-1zM202 287h1v2h-1zM203 289h1v3h-1zM204 292h1v3h-1zM205 295h1v5h-1zM206 300h1v4h-1zM207 304h1v3h-1zM208 307h1v4h-1zM209 311h1v7h-1zM210 318h1v4h-1zM211 322h1v2h-1zM212 324h1v3h-1zM237 290h1v40h-1zM213 327h1v4h-1zM214 331h1v6h-1zM219 337h1v2h-1zM218 339h2v1h-2zM215 337h1v5h-1zM216 342h1v1h-1zM218 340h1v3h-1zM216 343h2v1h-2zM217 344h1v2h-1zM220 340h1v8h-1zM221 348h1v14h-1zM236 330h1v38h-1zM222 362h1v9h-1zM222 371h2v5h-2zM223 376h1v25h-1zM223 401h2v1h-2zM235 368h1v40h-1zM224 402h1v28h-1zM224 430h2v1h-2zM234 408h1v34h-1zM225 431h1v22h-1zM233 442h1v11h-1z"/><path fill="#00c000" d="M267 39h1v10h-1zM274 49h1v3h-1zM581 61h29v1h-29zM267 65h1v2h-1zM275 68h1v6h-1zM265 74h1v3h-1zM252 69h1v17h-1zM264 78h1v8h-1zM276 88h1v2h-1zM263 86h1v13h-1zM253 90h1v14h-1zM262 99h1v12h-1zM254 115h1v2h-1zM261 111h1v7h-1zM277 106h1v15h-1zM260 118h1v7h-1zM259 125h1v7h-1zM278 121h1v12h-1zM255 129h1v7h-1zM256 137h1v2h-1zM258 132h1v7h-1zM279 133h1v9h-1zM256 139h2v5h-2zM256 144h1v2h-1zM280 142h1v14h-1zM281 156h1v6h-1zM282 162h1v1h-1zM282 163h3v1h-3zM284 164h1v3h-1zM285 167h1v5h-1zM286 172h1v3h-1zM287 175h1v3h-1zM288 178h1v4h-1zM289 182h1v4h-1zM290 186h1v4h-1zM291 190h1v4h-1zM292 194h1v4h-1zM293 198h1v7h-1zM294 205h1v11h-1zM295 216h1v4h-1zM296 220h1v4h-1zM297 224h1v4h-1zM298 228h1v3h-1zM305 233h1v1h-1zM299 231h1v4h-1zM304 234h2v1h-2zM306 235h1v3h-1zM300 235h1v4h-1zM303 235h1v4h-1zM318 238h1v1h-1zM307 238h1v2h-1zM313 238h1v2h-1zM317 239h2v1h-2zM301 239h2v2h-2zM312 240h2v1h-2zM316 240h2v1h-2zM308 240h1v2h-1zM310 241h3v1h-3zM314 241h2v1h-2zM302 241h1v2h-1zM309 242h1v1h-1zM314 242h1v2h-1zM319 240h1v7h-1zM336 250h1v1h-1zM320 247h1v5h-1zM336 251h2v1h-2zM344 251h1v1h-1zM338 252h2v1h-2zM343 252h2v1h-2zM321 252h1v2h-1zM324 253h1v1h-1zM334 252h2v2h-2zM340 253h1v1h-1zM343 253h1v1h-1zM322 254h2v1h-2zM325 254h1v1h-1zM332 254h1v1h-1zM334 254h1v1h-1zM341 254h2v1h-2zM322 255h1v1h-1zM332 255h2v1h-2zM341 255h1v1h-1zM326 255h1v2h-1zM333 256h1v2h-1zM345 253h1v5h-1zM327 257h1v2h-1zM331 256h1v3h-1zM328 259h1v1h-1zM330 259h1v1h-1zM346 258h1v2h-1zM347 260h2v1h-2zM329 260h1v2h-1zM349 261h1v2h-1zM350 263h1v1h-1zM351 264h1v2h-1zM353 265h2v1h-2zM352 266h1v1h-1zM355 266h1v2h-1zM356 268h1v1h-1zM356 269h2v1h-2zM608 269h1v1h-1zM356 270h1v1h-1zM358 270h1v1h-1zM359 271h1v1h-1zM367 271h1v1h-1zM360 272h2v1h-2zM364 272h1v1h-1zM607 270h2v3h-2zM362 273h1v1h-1zM364 273h2v1h-2zM367 272h2v2h-2zM362 274h2v1h-2zM365 274h2v1h-2zM369 274h1v1h-1zM407 274h2v1h-2zM608 273h1v2h-1zM363 275h1v1h-1zM406 275h1v1h-1zM409 275h1v1h-1zM366 275h1v2h-1zM370 275h1v2h-1zM405 276h2v1h-2zM409 276h4v1h-4zM373 277h2v1h-2zM404 277h1v1h-1zM412 277h1v1h-1zM101 278h1v1h-1zM371 277h1v2h-1zM373 278h1v1h-1zM375 278h1v1h-1zM402 278h2v1h-2zM413 278h1v1h-1zM101 279h2v1h-2zM375 279h3v1h-3zM403 279h1v1h-1zM413 279h2v1h-2zM99 280h2v1h-2zM102 280h1v1h-1zM378 280h1v1h-1zM401 279h1v2h-1zM414 280h1v1h-1zM97 281h2v1h-2zM100 281h1v1h-1zM103 281h2v1h-2zM372 279h1v3h-1zM378 281h2v1h-2zM400 281h1v1h-1zM415 281h2v1h-2zM104 282h1v1h-1zM106 282h1v1h-1zM380 282h2v1h-2zM399 282h1v1h-1zM415 282h1v1h-1zM417 282h1v1h-1zM420 282h1v1h-1zM527 281h1v2h-1zM609 275h1v8h-1zM96 282h1v2h-1zM105 283h2v1h-2zM381 283h1v1h-1zM398 283h2v1h-2zM418 283h3v1h-3zM111 284h1v1h-1zM114 284h1v1h-1zM398 284h1v1h-1zM419 284h1v1h-1zM421 284h1v1h-1zM423 284h1v1h-1zM444 284h1v1h-1zM525 283h2v2h-2zM105 284h1v2h-1zM107 284h2v2h-2zM110 285h2v1h-2zM113 285h1v1h-1zM115 285h1v1h-1zM382 284h1v2h-1zM421 285h3v1h-3zM444 285h2v1h-2zM528 283h1v3h-1zM95 284h1v3h-1zM112 286h2v1h-2zM115 286h3v1h-3zM421 286h1v1h-1zM439 286h1v1h-1zM441 286h1v1h-1zM443 286h1v1h-1zM483 286h1v1h-1zM521 286h1v1h-1zM524 285h1v2h-1zM604 286h1v1h-1zM606 273h1v14h-1zM109 286h1v2h-1zM383 286h1v2h-1zM424 286h1v2h-1zM439 287h2v1h-2zM442 287h2v1h-2zM445 286h1v2h-1zM483 287h3v1h-3zM520 287h2v1h-2zM523 287h1v1h-1zM529 286h2v2h-2zM602 287h4v1h-4zM112 287h1v2h-1zM397 285h1v4h-1zM483 288h1v1h-1zM486 288h1v1h-1zM519 288h2v1h-2zM530 288h1v1h-1zM560 288h1v1h-1zM603 288h1v1h-1zM610 283h1v6h-1zM118 287h1v3h-1zM384 288h1v2h-1zM390 289h1v1h-1zM425 288h1v2h-1zM429 289h1v1h-1zM434 289h1v1h-1zM436 288h1v2h-1zM438 288h1v2h-1zM477 288h1v2h-1zM482 289h1v1h-1zM487 289h3v1h-3zM519 289h1v1h-1zM522 288h1v2h-1zM558 289h2v1h-2zM601 288h1v2h-1zM605 288h1v2h-1zM94 287h1v4h-1zM426 290h1v1h-1zM428 290h2v1h-2zM433 290h1v1h-1zM446 288h1v3h-1zM474 290h1v1h-1zM476 290h2v1h-2zM481 290h2v1h-2zM487 290h1v1h-1zM559 290h1v1h-1zM600 290h1v1h-1zM119 290h2v2h-2zM385 290h1v2h-1zM389 290h1v2h-1zM391 290h2v2h-2zM396 289h1v3h-1zM426 291h3v1h-3zM430 291h3v1h-3zM435 290h1v2h-1zM437 290h1v2h-1zM447 291h3v1h-3zM473 291h2v1h-2zM476 291h1v1h-1zM482 291h1v1h-1zM490 290h1v2h-1zM557 290h1v2h-1zM561 289h1v3h-1zM598 291h3v1h-3zM93 291h1v2h-1zM386 292h3v1h-3zM393 292h3v1h-3zM430 292h1v1h-1zM450 292h1v1h-1zM473 292h1v1h-1zM478 291h1v2h-1zM480 291h1v2h-1zM491 292h1v1h-1zM493 292h1v1h-1zM496 292h1v1h-1zM518 290h1v3h-1zM531 289h1v4h-1zM552 292h1v1h-1zM556 292h1v1h-1zM598 292h1v1h-1zM393 293h1v1h-1zM450 293h2v1h-2zM472 293h1v1h-1zM475 292h1v2h-1zM491 293h2v1h-2zM494 293h3v1h-3zM517 293h1v1h-1zM532 293h1v1h-1zM551 293h2v1h-2zM562 292h1v2h-1zM452 294h2v1h-2zM467 294h1v1h-1zM470 294h2v1h-2zM478 293h2v2h-2zM492 294h1v1h-1zM516 294h2v1h-2zM532 294h2v1h-2zM550 294h2v1h-2zM553 294h1v1h-1zM555 293h1v2h-1zM563 294h2v1h-2zM566 294h1v1h-1zM597 293h1v2h-1zM611 289h1v6h-1zM92 293h1v3h-1zM453 295h1v1h-1zM466 295h2v1h-2zM470 295h1v1h-1zM533 295h1v1h-1zM553 295h2v1h-2zM563 295h1v1h-1zM565 295h2v1h-2zM586 295h1v1h-1zM596 295h2v1h-2zM619 295h2v1h-2zM121 292h1v5h-1zM454 296h1v1h-1zM465 296h2v1h-2zM497 294h1v3h-1zM515 295h1v2h-1zM534 296h1v1h-1zM565 296h1v1h-1zM567 296h1v1h-1zM584 296h1v1h-1zM586 296h2v1h-2zM612 295h1v2h-1zM616 296h1v1h-1zM618 296h1v1h-1zM454 297h4v1h-4zM465 297h1v1h-1zM468 296h2v2h-2zM498 297h1v1h-1zM514 297h1v1h-1zM534 297h5v1h-5zM549 295h1v3h-1zM567 297h3v1h-3zM588 297h2v1h-2zM595 296h1v2h-1zM613 297h1v1h-1zM616 297h2v1h-2zM454 298h1v1h-1zM457 298h1v1h-1zM499 298h1v1h-1zM512 298h2v1h-2zM539 298h1v1h-1zM546 298h1v1h-1zM548 298h1v1h-1zM583 297h1v2h-1zM585 297h1v2h-1zM613 298h2v1h-2zM616 298h1v1h-1zM91 296h1v4h-1zM464 298h1v2h-1zM546 299h3v1h-3zM570 298h1v2h-1zM582 299h1v1h-1zM589 298h1v2h-1zM613 299h3v1h-3zM462 300h3v1h-3zM500 299h1v2h-1zM507 300h1v1h-1zM511 299h1v2h-1zM546 300h2v1h-2zM581 300h1v1h-1zM613 300h1v1h-1zM122 297h1v5h-1zM458 299h1v3h-1zM460 301h1v1h-1zM462 301h1v1h-1zM501 301h2v1h-2zM504 301h1v1h-1zM506 301h1v1h-1zM508 301h1v1h-1zM510 301h1v1h-1zM540 299h1v3h-1zM544 301h2v1h-2zM578 301h3v1h-3zM615 300h1v2h-1zM459 302h3v1h-3zM501 302h1v1h-1zM509 302h2v1h-2zM541 302h1v1h-1zM543 302h1v1h-1zM571 300h1v3h-1zM574 302h2v1h-2zM577 302h1v1h-1zM580 302h1v1h-1zM459 303h1v1h-1zM503 302h1v2h-1zM505 302h1v2h-1zM541 303h3v1h-3zM545 302h1v2h-1zM572 303h1v1h-1zM574 303h1v1h-1zM576 303h1v1h-1zM90 300h1v5h-1zM461 303h1v2h-1zM541 304h1v1h-1zM123 302h1v4h-1zM573 304h1v2h-1zM87 306h1v1h-1zM89 305h1v2h-1zM590 300h1v7h-1zM55 306h1v2h-1zM57 307h1v1h-1zM87 307h3v1h-3zM56 308h2v1h-2zM85 308h1v1h-1zM87 308h1v1h-1zM89 308h1v1h-1zM152 308h1v1h-1zM594 298h1v11h-1zM56 309h1v1h-1zM85 309h2v1h-2zM151 309h2v1h-2zM61 310h1v1h-1zM124 306h1v5h-1zM150 310h2v1h-2zM58 309h1v3h-1zM61 311h4v1h-4zM86 310h1v2h-1zM150 311h1v1h-1zM153 310h1v2h-1zM65 312h1v1h-1zM84 310h1v3h-1zM591 307h1v6h-1zM593 309h1v4h-1zM59 312h2v2h-2zM66 313h1v1h-1zM149 312h1v2h-1zM67 314h1v1h-1zM83 313h1v2h-1zM147 314h2v1h-2zM154 312h1v3h-1zM592 313h2v2h-2zM71 315h2v1h-2zM125 311h1v5h-1zM147 315h1v1h-1zM68 315h1v2h-1zM71 316h1v1h-1zM155 315h1v2h-1zM82 315h1v3h-1zM592 315h1v3h-1zM73 316h1v3h-1zM126 316h1v3h-1zM146 316h1v3h-1zM69 317h2v3h-2zM81 318h1v2h-1zM74 319h1v2h-1zM156 317h1v4h-1zM75 321h3v1h-3zM127 319h1v3h-1zM143 321h1v1h-1zM145 319h1v3h-1zM75 322h1v1h-1zM78 322h1v1h-1zM80 320h1v3h-1zM143 322h2v1h-2zM78 323h2v1h-2zM144 323h1v1h-1zM128 322h1v3h-1zM142 323h1v2h-1zM157 321h1v5h-1zM141 325h1v2h-1zM129 325h1v3h-1zM140 327h1v2h-1zM158 326h1v3h-1zM130 328h1v3h-1zM139 329h1v2h-1zM159 329h1v4h-1zM138 331h1v3h-1zM131 331h1v4h-1zM132 335h1v3h-1zM137 334h1v4h-1zM133 338h1v2h-1zM160 333h1v7h-1zM134 340h1v2h-1zM136 338h1v4h-1zM179 341h1v2h-1zM135 342h1v2h-1zM166 343h1v1h-1zM166 344h2v2h-2zM167 346h1v1h-1zM179 343h2v5h-2zM161 340h1v9h-1zM168 347h1v2h-1zM165 346h1v4h-1zM169 349h1v3h-1zM180 348h1v5h-1zM170 352h1v2h-1zM162 349h1v8h-1zM164 350h1v7h-1zM171 354h1v3h-1zM178 348h1v9h-1zM172 357h1v2h-1zM173 359h1v1h-1zM173 360h2v1h-2zM177 357h1v4h-1zM163 357h1v5h-1zM173 361h1v1h-1zM175 361h2v1h-2zM193 361h2v1h-2zM181 353h1v10h-1zM192 362h1v1h-1zM176 362h1v2h-1zM191 363h2v1h-2zM182 363h1v2h-1zM195 362h1v3h-1zM197 364h1v1h-1zM190 364h1v2h-1zM196 365h2v1h-2zM183 365h1v2h-1zM188 366h2v1h-2zM196 366h1v1h-1zM198 366h4v1h-4zM203 366h1v1h-1zM184 367h1v1h-1zM186 367h2v1h-2zM198 367h1v1h-1zM185 368h1v1h-1zM187 368h1v1h-1zM189 367h1v2h-1zM202 367h2v2h-2zM204 369h1v5h-1zM205 374h1v4h-1zM206 378h1v5h-1zM207 383h1v5h-1zM208 388h1v5h-1zM209 393h1v2h-1zM210 395h1v2h-1zM211 397h1v3h-1zM212 400h1v4h-1zM213 404h1v4h-1zM214 408h1v8h-1zM219 416h1v1h-1zM219 417h2v1h-2zM218 418h1v2h-1zM215 416h1v6h-1zM217 420h1v2h-1zM220 418h1v4h-1zM216 422h1v2h-1zM221 433h1v2h-1z"/><path fill="#0080ff" d="M268 39h1v10h-1zM243 39h1v24h-1zM267 49h1v16h-1zM275 67h1v1h-1zM266 65h1v6h-1zM265 71h1v3h-1zM581 74h29v1h-29zM264 74h1v4h-1zM263 78h1v8h-1zM276 79h1v9h-1zM253 86h1v4h-1zM262 86h1v13h-1zM277 92h1v14h-1zM261 99h1v11h-1zM254 104h1v11h-1zM260 110h1v6h-1zM278 117h1v4h-1zM259 116h1v6h-1zM258 122h1v6h-1zM255 115h1v14h-1zM257 128h1v1h-1zM279 129h1v3h-1zM256 129h2v5h-2zM256 134h1v3h-1zM280 137h1v2h-1zM281 140h1v6h-1zM282 146h1v5h-1zM283 151h1v5h-1zM284 156h1v4h-1zM285 160h1v4h-1zM286 164h1v3h-1zM287 167h1v2h-1zM242 72h1v98h-1zM288 169h1v3h-1zM289 172h1v4h-1zM290 176h1v6h-1zM291 182h1v5h-1zM292 187h1v4h-1zM293 191h1v6h-1zM294 197h1v5h-1zM295 202h1v2h-1zM296 204h1v4h-1zM297 208h1v4h-1zM298 212h1v4h-1zM299 216h1v5h-1zM304 222h2v1h-2zM300 221h1v4h-1zM303 223h1v2h-1zM306 223h1v2h-1zM301 225h2v3h-2zM307 225h1v3h-1zM312 228h1v1h-1zM318 228h1v1h-1zM302 228h1v2h-1zM308 228h1v2h-1zM311 229h2v1h-2zM317 229h2v2h-2zM309 230h1v2h-1zM311 230h1v2h-1zM313 230h1v2h-1zM315 231h2v1h-2zM314 232h1v1h-1zM310 232h1v2h-1zM336 235h1v1h-1zM319 231h1v6h-1zM335 236h2v1h-2zM335 237h1v1h-1zM337 237h1v1h-1zM337 238h3v1h-3zM320 237h1v3h-1zM334 238h1v2h-1zM340 239h1v1h-1zM320 240h2v1h-2zM322 241h1v1h-1zM333 240h1v2h-1zM323 242h2v1h-2zM332 242h1v1h-1zM341 240h1v3h-1zM343 242h1v1h-1zM324 243h1v1h-1zM344 243h1v1h-1zM331 243h1v2h-1zM342 243h1v2h-1zM330 245h1v1h-1zM345 244h1v2h-1zM325 244h1v3h-1zM329 246h2v1h-2zM346 246h3v1h-3zM241 170h1v78h-1zM326 247h1v1h-1zM328 247h1v1h-1zM346 247h1v1h-1zM327 248h1v1h-1zM348 247h1v2h-1zM349 249h1v1h-1zM349 250h2v2h-2zM351 252h1v1h-1zM351 253h2v1h-2zM354 253h1v1h-1zM353 254h1v1h-1zM355 254h1v2h-1zM608 255h1v1h-1zM356 256h1v1h-1zM55 257h6v1h-6zM357 257h1v1h-1zM359 257h1v1h-1zM357 258h2v1h-2zM360 258h1v1h-1zM362 258h1v1h-1zM607 256h2v3h-2zM360 259h2v1h-2zM363 259h1v1h-1zM607 259h1v1h-1zM361 260h1v1h-1zM363 260h2v1h-2zM364 261h1v1h-1zM367 261h1v1h-1zM409 261h1v1h-1zM412 261h1v1h-1zM365 262h2v1h-2zM407 262h2v1h-2zM410 262h2v1h-2zM365 263h1v1h-1zM368 262h1v2h-1zM404 263h1v1h-1zM406 263h1v1h-1zM97 264h1v1h-1zM369 264h3v1h-3zM413 262h1v3h-1zM609 259h1v6h-1zM98 265h3v1h-3zM102 265h1v1h-1zM371 265h1v1h-1zM405 264h1v2h-1zM414 265h1v1h-1zM101 266h2v1h-2zM372 266h1v1h-1zM374 266h1v1h-1zM414 266h2v1h-2zM606 260h1v7h-1zM96 265h1v3h-1zM372 267h2v1h-2zM375 267h1v1h-1zM377 267h1v1h-1zM380 266h1v2h-1zM403 264h1v4h-1zM416 267h1v1h-1zM103 267h1v2h-1zM376 268h1v1h-1zM378 268h2v1h-2zM402 268h1v1h-1zM416 268h2v1h-2zM610 265h1v4h-1zM95 268h1v2h-1zM110 269h2v1h-2zM113 268h1v2h-1zM379 269h1v1h-1zM381 268h1v2h-1zM104 269h1v2h-1zM106 270h1v1h-1zM108 270h2v1h-2zM111 270h2v1h-2zM401 269h2v2h-2zM418 269h1v2h-1zM525 270h1v1h-1zM94 270h2v2h-2zM107 271h1v1h-1zM109 271h1v1h-1zM114 270h1v2h-1zM382 270h1v2h-1zM399 271h2v1h-2zM419 271h1v1h-1zM422 271h1v1h-1zM525 271h3v1h-3zM605 267h1v5h-1zM94 272h1v1h-1zM105 271h1v2h-1zM112 271h1v2h-1zM114 272h4v1h-4zM400 272h1v1h-1zM419 272h2v1h-2zM422 272h3v1h-3zM523 272h2v1h-2zM526 272h2v1h-2zM60 258h1v16h-1zM117 273h1v1h-1zM383 272h1v2h-1zM396 273h1v1h-1zM398 272h1v2h-1zM424 273h1v1h-1zM524 273h1v1h-1zM602 273h1v1h-1zM604 272h1v2h-1zM93 273h2v2h-2zM396 274h2v1h-2zM421 273h1v2h-1zM439 274h1v1h-1zM558 274h1v1h-1zM611 269h1v6h-1zM118 274h1v2h-1zM395 275h1v1h-1zM437 275h1v1h-1zM439 275h2v1h-2zM486 275h1v1h-1zM522 273h1v3h-1zM528 273h1v3h-1zM603 274h1v2h-1zM93 275h1v2h-1zM119 276h1v1h-1zM394 276h2v1h-2zM436 276h3v1h-3zM485 276h2v1h-2zM495 276h1v1h-1zM529 276h1v1h-1zM554 276h1v1h-1zM557 275h1v2h-1zM559 275h1v2h-1zM601 274h1v3h-1zM384 274h1v4h-1zM386 277h1v1h-1zM388 277h1v1h-1zM392 277h2v1h-2zM425 274h1v4h-1zM436 277h1v1h-1zM441 276h1v2h-1zM443 276h1v2h-1zM480 277h2v1h-2zM483 277h2v1h-2zM487 277h1v1h-1zM489 277h1v1h-1zM492 277h1v1h-1zM494 277h2v1h-2zM530 277h1v1h-1zM554 277h3v1h-3zM560 277h1v1h-1zM600 277h1v1h-1zM385 278h2v1h-2zM388 278h2v1h-2zM391 278h1v1h-1zM438 277h1v2h-1zM444 278h1v1h-1zM482 278h1v1h-1zM487 278h3v1h-3zM491 278h1v1h-1zM493 278h1v1h-1zM495 278h1v1h-1zM521 276h1v3h-1zM531 278h1v1h-1zM555 278h1v1h-1zM561 278h1v1h-1zM599 278h2v1h-2zM385 279h1v1h-1zM390 279h1v1h-1zM426 278h2v2h-2zM435 278h1v2h-1zM442 278h1v2h-1zM444 279h2v1h-2zM490 279h2v1h-2zM520 279h1v1h-1zM553 278h1v2h-1zM561 279h2v1h-2zM612 275h1v5h-1zM92 277h1v4h-1zM387 279h1v2h-1zM426 280h1v1h-1zM434 280h1v1h-1zM445 280h1v1h-1zM447 280h1v1h-1zM475 280h1v1h-1zM477 280h1v1h-1zM479 278h1v3h-1zM490 280h1v1h-1zM517 280h3v1h-3zM532 279h1v2h-1zM552 280h2v1h-2zM562 280h1v1h-1zM583 280h1v1h-1zM598 279h1v2h-1zM620 280h1v1h-1zM120 277h1v5h-1zM428 280h2v2h-2zM433 281h2v1h-2zM474 281h1v1h-1zM476 281h3v1h-3zM517 281h1v1h-1zM551 281h1v1h-1zM583 281h2v1h-2zM586 281h1v1h-1zM618 281h2v1h-2zM428 282h1v1h-1zM430 282h1v1h-1zM432 282h1v1h-1zM446 281h1v2h-1zM448 281h1v2h-1zM453 282h1v1h-1zM471 282h1v1h-1zM473 282h2v1h-2zM496 279h1v4h-1zM514 282h1v1h-1zM516 282h1v1h-1zM533 281h1v2h-1zM550 282h2v1h-2zM563 281h1v2h-1zM580 282h1v1h-1zM582 282h1v1h-1zM584 282h5v1h-5zM596 281h2v2h-2zM613 280h1v3h-1zM616 282h2v1h-2zM91 281h1v3h-1zM430 283h2v1h-2zM452 283h2v1h-2zM471 283h2v1h-2zM478 282h1v2h-1zM515 283h2v1h-2zM549 283h1v1h-1zM563 283h3v1h-3zM577 283h1v1h-1zM579 283h1v1h-1zM581 283h2v1h-2zM588 283h1v1h-1zM614 283h2v1h-2zM617 283h1v1h-1zM430 284h1v1h-1zM449 283h1v2h-1zM452 284h1v1h-1zM467 284h1v1h-1zM470 284h1v1h-1zM497 283h1v2h-1zM511 284h1v1h-1zM513 283h1v2h-1zM516 284h1v1h-1zM534 283h1v2h-1zM538 284h1v1h-1zM548 284h2v1h-2zM577 284h3v1h-3zM121 282h1v4h-1zM450 285h2v1h-2zM454 284h1v2h-1zM456 285h1v1h-1zM465 285h2v1h-2zM468 285h3v1h-3zM497 285h3v1h-3zM511 285h2v1h-2zM535 285h4v1h-4zM546 285h2v1h-2zM566 284h1v2h-1zM581 284h1v2h-1zM585 283h1v3h-1zM455 286h1v1h-1zM464 286h1v1h-1zM470 286h1v1h-1zM499 286h1v1h-1zM507 286h1v1h-1zM512 286h1v1h-1zM539 286h1v1h-1zM544 286h1v1h-1zM546 286h1v1h-1zM576 285h1v2h-1zM595 283h1v4h-1zM60 276h1v12h-1zM90 284h1v4h-1zM457 286h1v2h-1zM500 287h1v1h-1zM507 287h2v1h-2zM510 286h1v2h-1zM543 287h3v1h-3zM567 286h2v2h-2zM575 287h1v1h-1zM462 287h2v2h-2zM506 288h1v1h-1zM509 288h2v1h-2zM539 287h2v2h-2zM543 288h1v1h-1zM60 289h1v1h-1zM89 288h1v2h-1zM122 286h1v4h-1zM240 248h1v42h-1zM461 289h1v1h-1zM500 288h2v2h-2zM503 289h1v1h-1zM505 289h2v1h-2zM509 289h1v1h-1zM545 288h1v2h-1zM569 288h1v2h-1zM574 288h1v2h-1zM88 290h2v1h-2zM458 288h1v3h-1zM460 290h2v1h-2zM502 290h2v1h-2zM505 290h1v1h-1zM541 289h2v2h-2zM87 291h1v1h-1zM459 291h1v1h-1zM461 291h1v1h-1zM502 291h1v1h-1zM570 290h1v2h-1zM589 284h1v8h-1zM594 287h1v5h-1zM150 292h2v1h-2zM504 291h1v2h-1zM571 292h1v1h-1zM573 290h1v3h-1zM61 290h1v4h-1zM86 292h1v2h-1zM123 290h1v4h-1zM149 293h1v1h-1zM85 294h1v1h-1zM572 293h1v2h-1zM62 294h1v2h-1zM62 296h2v1h-2zM65 295h1v2h-1zM84 295h1v2h-1zM148 294h1v3h-1zM152 293h1v4h-1zM64 297h2v1h-2zM124 294h1v4h-1zM147 297h1v1h-1zM153 297h1v1h-1zM593 292h1v6h-1zM64 298h1v1h-1zM66 298h1v1h-1zM83 297h1v2h-1zM590 292h1v7h-1zM592 298h1v1h-1zM66 299h2v1h-2zM146 298h2v2h-2zM153 298h2v2h-2zM66 300h1v1h-1zM68 300h1v1h-1zM70 300h1v1h-1zM125 298h1v3h-1zM145 300h1v1h-1zM153 300h1v1h-1zM68 301h2v1h-2zM82 299h1v3h-1zM144 301h2v1h-2zM591 299h2v3h-2zM69 302h1v1h-1zM71 301h1v2h-1zM591 302h1v1h-1zM81 302h1v2h-1zM126 301h1v3h-1zM143 302h1v2h-1zM155 300h1v4h-1zM72 303h1v2h-1zM142 304h1v1h-1zM73 305h2v1h-2zM80 304h1v2h-1zM79 306h2v1h-2zM141 305h1v2h-1zM156 304h1v3h-1zM74 306h1v2h-1zM77 307h2v1h-2zM127 304h1v4h-1zM74 308h3v1h-3zM157 307h1v2h-1zM128 308h1v3h-1zM140 307h1v4h-1zM158 309h1v3h-1zM129 311h1v2h-1zM139 311h1v3h-1zM159 312h1v3h-1zM130 313h1v3h-1zM138 314h2v2h-2zM137 316h3v1h-3zM131 316h1v3h-1zM160 315h1v4h-1zM137 317h2v3h-2zM138 320h1v1h-1zM132 319h1v3h-1zM136 320h1v4h-1zM133 322h1v3h-1zM135 324h1v1h-1zM134 325h2v1h-2zM135 326h1v1h-1zM179 326h1v3h-1zM166 329h1v1h-1zM239 290h1v40h-1zM165 330h2v1h-2zM165 331h1v3h-1zM167 331h1v3h-1zM161 328h1v8h-1zM168 334h1v2h-1zM162 336h1v2h-1zM164 334h1v4h-1zM178 329h1v9h-1zM169 336h1v3h-1zM180 329h1v10h-1zM162 338h2v3h-2zM170 339h1v2h-1zM162 341h1v2h-1zM171 341h1v3h-1zM172 344h1v2h-1zM173 346h1v1h-1zM177 338h1v10h-1zM173 347h2v2h-2zM176 348h1v1h-1zM181 339h1v10h-1zM194 348h1v1h-1zM195 349h1v1h-1zM173 349h1v2h-1zM175 349h2v2h-2zM182 349h1v2h-1zM191 349h1v2h-1zM193 349h1v2h-1zM195 350h2v1h-2zM175 351h1v1h-1zM182 351h2v1h-2zM185 351h1v1h-1zM187 351h1v1h-1zM191 351h2v1h-2zM196 351h1v1h-1zM182 352h1v1h-1zM184 352h1v1h-1zM188 352h1v1h-1zM190 352h1v1h-1zM192 352h1v1h-1zM197 352h1v1h-1zM186 352h1v2h-1zM189 353h2v1h-2zM197 353h2v1h-2zM190 354h1v1h-1zM197 354h1v1h-1zM199 354h1v1h-1zM200 355h2v1h-2zM202 356h1v1h-1zM203 357h1v3h-1zM204 360h1v4h-1zM238 330h1v38h-1zM205 364h1v6h-1zM205 370h2v1h-2zM206 371h1v6h-1zM207 377h1v2h-1zM208 379h1v5h-1zM209 384h1v4h-1zM210 388h1v4h-1zM211 392h1v3h-1zM212 395h1v3h-1zM213 398h1v2h-1zM214 400h1v4h-1zM219 403h1v4h-1zM237 368h1v40h-1zM215 404h1v6h-1zM216 410h1v1h-1zM218 407h1v4h-1zM220 408h1v3h-1zM216 411h2v1h-2zM216 412h1v1h-1zM222 419h1v10h-1zM236 408h1v34h-1zM223 447h1v6h-1zM235 442h1v11h-1z"/><path fill="#c000ff" d="M266 39h1v10h-1zM274 39h1v10h-1zM251 39h1v13h-1zM265 49h1v14h-1zM264 63h1v4h-1zM275 49h1v18h-1zM252 52h1v17h-1zM263 67h1v4h-1zM276 70h1v9h-1zM262 71h1v10h-1zM253 69h1v17h-1zM581 87h29v1h-29zM277 89h1v3h-1zM261 81h1v14h-1zM260 95h1v8h-1zM254 86h1v18h-1zM259 103h1v6h-1zM255 104h1v9h-1zM258 109h1v4h-1zM256 113h2v4h-2zM278 104h1v13h-1zM256 117h1v3h-1zM279 117h1v12h-1zM280 129h1v8h-1zM281 137h1v3h-1zM282 140h1v3h-1zM283 143h1v2h-1zM284 145h1v3h-1zM285 148h1v2h-1zM240 137h1v15h-1zM286 150h1v3h-1zM287 153h1v2h-1zM288 155h1v2h-1zM289 157h1v4h-1zM290 161h1v7h-1zM291 168h1v10h-1zM292 178h1v7h-1zM293 185h1v4h-1zM294 189h1v6h-1zM295 195h1v6h-1zM296 201h1v2h-1zM297 203h1v3h-1zM298 206h1v5h-1zM304 210h1v2h-1zM317 212h1v1h-1zM303 212h1v2h-1zM305 212h1v2h-1zM317 213h2v1h-2zM299 211h1v4h-1zM318 214h1v1h-1zM306 214h1v2h-1zM310 215h1v1h-1zM313 215h1v1h-1zM316 214h1v2h-1zM307 216h1v1h-1zM309 216h5v1h-5zM315 216h1v1h-1zM300 215h1v3h-1zM302 214h1v4h-1zM308 217h3v1h-3zM312 217h1v1h-1zM314 217h2v1h-2zM300 218h2v1h-2zM308 218h2v1h-2zM314 218h1v1h-1zM309 219h1v2h-1zM301 219h1v3h-1zM319 215h1v9h-1zM335 226h1v1h-1zM337 226h1v1h-1zM320 224h1v4h-1zM336 227h2v1h-2zM320 228h2v1h-2zM338 228h2v1h-2zM321 229h1v1h-1zM334 227h1v3h-1zM338 229h1v1h-1zM340 229h1v1h-1zM342 229h1v1h-1zM322 230h1v1h-1zM340 230h2v1h-2zM322 231h2v1h-2zM332 230h2v2h-2zM341 231h1v1h-1zM343 230h2v2h-2zM322 232h1v1h-1zM345 232h2v1h-2zM331 232h1v2h-1zM345 233h1v1h-1zM324 232h1v3h-1zM330 234h1v1h-1zM347 233h1v2h-1zM329 235h2v1h-2zM325 235h1v2h-1zM328 236h1v1h-1zM348 235h2v2h-2zM326 237h2v1h-2zM350 237h1v3h-1zM607 240h1v1h-1zM351 240h1v2h-1zM607 241h2v2h-2zM607 243h1v1h-1zM352 242h1v3h-1zM353 245h1v1h-1zM355 245h1v1h-1zM353 246h2v1h-2zM239 208h1v40h-1zM354 247h1v1h-1zM356 246h1v2h-1zM359 247h1v1h-1zM606 244h1v4h-1zM357 248h3v1h-3zM363 248h1v1h-1zM605 248h1v1h-1zM357 249h2v1h-2zM360 249h3v1h-3zM367 249h1v1h-1zM370 249h1v1h-1zM409 249h1v1h-1zM604 249h2v1h-2zM364 249h1v2h-1zM366 250h1v1h-1zM368 250h2v1h-2zM406 249h2v2h-2zM409 250h2v1h-2zM523 250h1v1h-1zM526 250h1v1h-1zM600 250h2v1h-2zM604 250h1v1h-1zM98 251h1v1h-1zM360 250h1v2h-1zM369 251h1v1h-1zM371 250h1v2h-1zM411 251h1v1h-1zM414 251h1v1h-1zM523 251h2v1h-2zM526 251h2v1h-2zM529 251h1v1h-1zM599 251h1v1h-1zM602 251h2v1h-2zM610 248h1v4h-1zM96 252h2v1h-2zM99 252h2v1h-2zM365 251h1v2h-1zM372 252h1v1h-1zM405 251h1v2h-1zM408 251h1v2h-1zM412 252h3v1h-3zM521 252h1v1h-1zM523 252h1v1h-1zM598 252h1v1h-1zM603 252h1v1h-1zM373 253h1v1h-1zM379 253h2v1h-2zM414 253h1v1h-1zM520 253h3v1h-3zM525 252h1v2h-1zM528 252h2v2h-2zM596 253h2v1h-2zM95 253h1v2h-1zM101 253h1v2h-1zM103 254h1v1h-1zM373 254h2v1h-2zM376 254h1v1h-1zM378 254h1v1h-1zM381 254h1v1h-1zM404 253h1v2h-1zM415 254h1v1h-1zM519 254h1v1h-1zM104 255h1v1h-1zM377 255h2v1h-2zM381 255h2v1h-2zM402 255h2v1h-2zM415 255h2v1h-2zM522 254h1v2h-1zM560 254h1v2h-1zM102 255h1v2h-1zM375 255h1v2h-1zM382 256h1v1h-1zM403 256h1v1h-1zM415 256h1v1h-1zM417 256h3v1h-3zM530 254h1v3h-1zM555 256h2v1h-2zM596 254h1v3h-1zM611 254h1v3h-1zM109 257h2v1h-2zM112 257h1v1h-1zM486 257h1v1h-1zM488 257h1v1h-1zM518 255h1v3h-1zM531 257h1v1h-1zM551 257h4v1h-4zM557 257h1v1h-1zM559 256h1v2h-1zM561 256h1v2h-1zM105 256h1v3h-1zM107 258h1v1h-1zM109 258h1v1h-1zM111 258h1v1h-1zM401 256h1v3h-1zM423 257h1v2h-1zM485 258h1v1h-1zM487 258h1v1h-1zM531 258h3v1h-3zM551 258h1v1h-1zM554 258h1v1h-1zM558 258h1v1h-1zM562 258h2v1h-2zM586 258h1v1h-1zM588 257h1v2h-1zM595 257h1v2h-1zM616 258h1v1h-1zM94 255h1v5h-1zM106 259h3v1h-3zM113 258h1v2h-1zM383 257h1v3h-1zM399 259h2v1h-2zM420 257h1v3h-1zM422 259h1v1h-1zM482 259h1v1h-1zM484 259h1v1h-1zM489 258h1v2h-1zM533 259h1v1h-1zM563 259h1v1h-1zM585 259h1v1h-1zM612 258h1v2h-1zM615 259h2v1h-2zM106 260h1v1h-1zM420 260h3v1h-3zM481 260h1v1h-1zM483 260h1v1h-1zM517 258h1v3h-1zM584 260h1v1h-1zM587 259h1v2h-1zM613 260h1v1h-1zM615 260h1v1h-1zM617 260h1v1h-1zM619 260h1v1h-1zM108 260h1v2h-1zM114 260h1v2h-1zM398 260h1v2h-1zM400 260h1v2h-1zM420 261h1v1h-1zM424 259h1v3h-1zM441 260h1v2h-1zM476 261h1v1h-1zM480 261h2v1h-2zM493 261h1v1h-1zM550 259h1v3h-1zM564 260h1v2h-1zM613 261h2v1h-2zM620 261h1v1h-1zM115 262h1v1h-1zM384 260h1v3h-1zM439 262h1v1h-1zM441 262h2v1h-2zM476 262h2v1h-2zM480 262h1v1h-1zM490 260h1v3h-1zM492 262h1v1h-1zM534 260h1v3h-1zM547 262h1v1h-1zM549 262h1v1h-1zM564 262h2v1h-2zM567 262h2v1h-2zM581 262h1v1h-1zM594 260h1v3h-1zM614 262h1v1h-1zM617 261h2v2h-2zM93 260h1v4h-1zM116 263h3v1h-3zM385 263h1v1h-1zM397 262h1v2h-1zM425 262h1v2h-1zM438 263h3v1h-3zM442 263h1v1h-1zM491 263h2v1h-2zM494 262h1v2h-1zM513 263h1v1h-1zM516 261h1v3h-1zM535 263h3v1h-3zM548 263h2v1h-2zM568 263h1v1h-1zM580 263h2v1h-2zM583 261h1v3h-1zM589 259h1v5h-1zM92 264h1v1h-1zM118 264h1v1h-1zM386 264h1v1h-1zM425 264h3v1h-3zM433 264h1v1h-1zM437 264h1v1h-1zM443 264h1v1h-1zM477 263h1v2h-1zM479 263h1v2h-1zM491 264h1v1h-1zM495 264h2v1h-2zM513 264h3v1h-3zM537 264h1v1h-1zM548 264h1v1h-1zM566 263h1v2h-1zM576 264h2v1h-2zM580 264h1v1h-1zM387 265h1v1h-1zM393 265h1v1h-1zM395 264h2v2h-2zM432 265h2v1h-2zM436 265h2v1h-2zM440 264h1v2h-1zM444 265h2v1h-2zM496 265h1v1h-1zM512 265h1v1h-1zM514 265h1v1h-1zM546 263h1v3h-1zM569 264h1v2h-1zM578 265h2v1h-2zM582 264h1v2h-1zM388 266h1v1h-1zM393 266h2v1h-2zM428 265h1v2h-1zM431 266h1v1h-1zM434 266h2v1h-2zM446 266h2v1h-2zM449 266h1v1h-1zM475 263h1v4h-1zM478 265h1v2h-1zM511 266h2v1h-2zM538 265h1v2h-1zM544 266h2v1h-2zM569 266h2v1h-2zM575 265h1v2h-1zM91 265h2v3h-2zM119 265h1v3h-1zM389 267h4v1h-4zM394 267h1v1h-1zM429 267h2v1h-2zM434 267h1v1h-1zM446 267h1v1h-1zM448 267h2v1h-2zM472 267h1v1h-1zM474 267h1v1h-1zM497 266h2v2h-2zM510 267h1v1h-1zM571 267h1v1h-1zM392 268h1v1h-1zM448 268h1v1h-1zM470 268h1v1h-1zM472 268h3v1h-3zM499 268h1v1h-1zM509 268h1v1h-1zM539 267h1v2h-1zM543 267h1v2h-1zM545 267h1v2h-1zM572 268h1v1h-1zM574 267h1v2h-1zM91 268h1v2h-1zM450 268h1v2h-1zM474 269h1v1h-1zM499 269h2v1h-2zM508 269h1v1h-1zM572 269h2v1h-2zM590 264h1v6h-1zM593 266h1v4h-1zM451 270h1v1h-1zM467 270h2v1h-2zM470 269h2v2h-2zM507 270h1v1h-1zM540 269h1v2h-1zM542 269h1v2h-1zM573 270h1v1h-1zM120 268h1v4h-1zM451 271h3v1h-3zM468 271h2v1h-2zM541 271h1v1h-1zM466 271h1v2h-1zM501 270h1v3h-1zM503 272h1v1h-1zM505 271h2v2h-2zM591 270h1v3h-1zM121 272h1v2h-1zM454 272h1v2h-1zM456 273h1v1h-1zM469 272h1v2h-1zM455 274h2v1h-2zM465 273h1v2h-1zM502 273h1v2h-1zM504 273h1v2h-1zM591 273h2v2h-2zM455 275h1v1h-1zM462 275h1v1h-1zM464 275h1v1h-1zM90 270h1v7h-1zM457 275h1v2h-1zM462 276h3v1h-3zM457 277h2v1h-2zM461 277h1v1h-1zM463 277h1v1h-1zM592 275h1v3h-1zM86 278h1v1h-1zM89 277h1v2h-1zM459 278h3v1h-3zM55 279h1v1h-1zM86 279h4v1h-4zM122 274h1v6h-1zM461 279h1v1h-1zM87 280h1v1h-1zM56 280h1v2h-1zM85 280h1v2h-1zM151 281h1v1h-1zM123 280h1v3h-1zM150 282h2v1h-2zM57 282h1v2h-1zM84 282h1v3h-1zM152 283h1v2h-1zM58 284h1v2h-1zM149 283h1v3h-1zM63 286h1v1h-1zM124 283h1v4h-1zM148 286h1v1h-1zM59 286h1v2h-1zM63 287h3v1h-3zM147 287h2v1h-2zM60 288h3v1h-3zM64 288h1v1h-1zM66 288h1v1h-1zM83 285h1v4h-1zM153 285h1v4h-1zM146 288h1v2h-1zM238 268h1v22h-1zM62 289h1v2h-1zM67 289h1v2h-1zM125 287h1v4h-1zM154 289h1v2h-1zM68 291h1v1h-1zM70 291h1v1h-1zM73 291h1v1h-1zM82 289h1v3h-1zM145 290h1v2h-1zM154 291h2v1h-2zM68 292h2v1h-2zM71 292h2v1h-2zM144 292h1v1h-1zM155 292h1v1h-1zM74 292h1v2h-1zM81 292h1v2h-1zM75 294h2v1h-2zM126 291h1v4h-1zM143 293h1v2h-1zM75 295h1v1h-1zM80 294h1v2h-1zM156 293h1v3h-1zM77 295h1v2h-1zM79 296h1v1h-1zM127 295h1v2h-1zM142 295h1v2h-1zM141 297h2v1h-2zM78 297h2v2h-2zM141 298h1v1h-1zM128 297h1v3h-1zM157 296h1v4h-1zM140 299h1v3h-1zM158 300h1v3h-1zM139 302h1v2h-1zM129 300h1v5h-1zM138 304h1v3h-1zM159 303h1v4h-1zM130 305h1v5h-1zM137 307h1v4h-1zM160 307h1v5h-1zM131 310h1v3h-1zM136 311h1v2h-1zM132 313h1v2h-1zM135 313h1v2h-1zM133 315h2v2h-2zM166 317h1v2h-1zM179 320h1v1h-1zM167 319h1v3h-1zM161 312h1v11h-1zM179 321h2v2h-2zM165 319h1v5h-1zM168 322h1v2h-1zM169 324h1v2h-1zM161 323h2v4h-2zM164 324h1v3h-1zM180 323h1v4h-1zM161 327h3v1h-3zM178 323h1v6h-1zM162 328h2v2h-2zM170 326h1v6h-1zM162 330h1v3h-1zM171 332h1v2h-1zM177 329h1v5h-1zM172 334h2v1h-2zM174 335h1v1h-1zM176 334h1v2h-1zM174 336h3v1h-3zM181 327h1v10h-1zM192 336h1v1h-1zM194 336h1v1h-1zM192 337h3v1h-3zM192 338h1v1h-1zM191 339h1v1h-1zM190 340h2v1h-2zM195 338h1v3h-1zM182 337h1v5h-1zM184 341h1v1h-1zM189 341h1v1h-1zM191 341h1v1h-1zM182 342h2v1h-2zM185 342h1v1h-1zM187 342h2v1h-2zM196 341h1v2h-1zM198 342h2v1h-2zM183 343h1v1h-1zM186 343h1v1h-1zM197 343h1v2h-1zM200 343h1v2h-1zM202 344h1v1h-1zM201 345h1v2h-1zM203 345h1v7h-1zM204 352h1v4h-1zM205 356h1v4h-1zM206 360h1v7h-1zM207 367h1v5h-1zM208 372h1v2h-1zM209 374h1v3h-1zM210 377h1v4h-1zM211 381h1v4h-1zM212 385h1v4h-1zM213 389h1v3h-1zM214 392h1v3h-1zM218 395h1v1h-1zM219 396h1v1h-1zM215 395h1v3h-1zM217 396h1v2h-1zM216 398h1v3h-1zM220 397h1v11h-1zM221 408h1v22h-1zM221 430h2v3h-2zM222 433h1v20h-1z"/><path fill="#00eeee" d="M265 39h1v3h-1zM275 39h1v10h-1zM264 43h1v7h-1zM252 39h1v13h-1zM263 50h1v8h-1zM262 58h1v9h-1zM253 52h1v17h-1zM276 49h1v21h-1zM242 39h1v33h-1zM261 67h1v10h-1zM254 69h1v17h-1zM260 77h1v9h-1zM277 70h1v19h-1zM259 86h1v9h-1zM581 100h29v1h-29zM258 95h1v8h-1zM255 86h1v18h-1zM257 103h1v1h-1zM278 89h1v15h-1zM256 104h2v4h-2zM257 108h1v2h-1zM279 104h1v11h-1zM280 115h1v7h-1zM281 122h1v2h-1zM282 124h1v1h-1zM282 125h2v1h-2zM283 126h1v2h-1zM284 128h1v2h-1zM285 130h1v3h-1zM286 133h1v2h-1zM287 135h1v3h-1zM288 138h1v2h-1zM289 140h1v5h-1zM290 145h1v6h-1zM241 72h1v80h-1zM291 151h1v9h-1zM292 160h1v4h-1zM293 164h1v6h-1zM294 170h1v9h-1zM295 179h1v6h-1zM296 185h1v2h-1zM297 187h1v3h-1zM298 190h1v3h-1zM304 192h1v2h-1zM299 193h1v3h-1zM303 194h1v3h-1zM305 194h1v4h-1zM312 198h1v1h-1zM317 197h1v2h-1zM300 196h1v4h-1zM302 197h1v3h-1zM306 198h1v2h-1zM311 199h1v2h-1zM316 199h1v2h-1zM301 200h1v2h-1zM307 200h1v2h-1zM313 199h1v3h-1zM315 201h1v1h-1zM308 202h1v1h-1zM310 201h1v2h-1zM318 199h1v4h-1zM309 203h2v1h-2zM314 202h1v2h-1zM338 206h1v1h-1zM319 203h1v5h-1zM337 207h1v2h-1zM336 209h1v1h-1zM339 207h1v3h-1zM333 210h3v1h-3zM320 208h1v4h-1zM322 211h1v1h-1zM340 210h1v2h-1zM342 211h1v1h-1zM321 212h2v1h-2zM340 212h2v1h-2zM343 212h2v1h-2zM323 213h2v1h-2zM332 211h1v3h-1zM323 214h1v1h-1zM325 214h1v1h-1zM325 215h3v1h-3zM329 214h1v2h-1zM331 214h1v2h-1zM345 213h1v3h-1zM330 216h2v1h-2zM328 216h1v2h-1zM330 217h1v1h-1zM346 216h1v2h-1zM346 218h3v1h-3zM348 219h1v1h-1zM349 220h1v3h-1zM350 223h2v1h-2zM352 224h1v3h-1zM353 227h3v1h-3zM355 228h1v1h-1zM353 228h1v2h-1zM356 229h2v1h-2zM360 228h1v2h-1zM607 229h1v1h-1zM358 230h2v1h-2zM361 230h3v1h-3zM367 230h1v1h-1zM356 230h1v2h-1zM361 231h1v1h-1zM368 231h2v1h-2zM607 230h2v2h-2zM359 231h1v2h-1zM364 231h1v2h-1zM366 231h1v2h-1zM369 232h1v2h-1zM365 233h1v2h-1zM370 234h1v2h-1zM372 235h1v1h-1zM408 235h4v1h-4zM413 235h2v1h-2zM370 236h3v1h-3zM375 236h1v1h-1zM406 236h2v1h-2zM412 236h1v1h-1zM414 236h1v1h-1zM525 236h2v1h-2zM373 237h2v1h-2zM376 237h1v1h-1zM405 237h1v1h-1zM526 237h1v1h-1zM380 238h2v1h-2zM404 238h1v1h-1zM520 238h1v1h-1zM524 237h1v2h-1zM608 232h1v7h-1zM373 238h1v2h-1zM377 238h1v2h-1zM379 239h1v1h-1zM402 239h2v1h-2zM415 237h1v3h-1zM521 239h3v1h-3zM97 240h1v1h-1zM378 240h1v1h-1zM382 239h1v2h-1zM519 239h1v2h-1zM521 240h1v1h-1zM523 240h1v1h-1zM527 238h1v3h-1zM97 241h2v1h-2zM101 241h2v1h-2zM104 241h1v1h-1zM401 240h1v2h-1zM416 240h1v2h-1zM528 241h3v1h-3zM94 242h1v1h-1zM96 242h1v1h-1zM99 242h2v1h-2zM102 242h1v1h-1zM104 242h2v1h-2zM109 242h1v1h-1zM417 242h2v1h-2zM485 242h2v1h-2zM518 241h1v2h-1zM531 242h1v1h-1zM95 243h2v1h-2zM100 243h1v1h-1zM105 243h1v1h-1zM108 243h2v1h-2zM111 243h2v1h-2zM383 241h1v3h-1zM400 242h1v2h-1zM487 243h1v1h-1zM489 243h5v1h-5zM516 243h2v1h-2zM606 232h1v12h-1zM93 243h1v2h-1zM96 244h1v1h-1zM103 243h1v2h-1zM106 244h1v1h-1zM108 244h1v1h-1zM419 243h1v2h-1zM484 243h1v2h-1zM488 244h1v1h-1zM494 244h1v1h-1zM517 244h1v1h-1zM602 244h1v1h-1zM605 244h1v1h-1zM609 239h1v6h-1zM106 245h2v1h-2zM110 244h1v2h-1zM113 244h1v2h-1zM399 244h1v2h-1zM423 245h1v1h-1zM482 245h2v1h-2zM495 245h1v1h-1zM515 244h1v2h-1zM560 245h1v1h-1zM602 245h4v1h-4zM107 246h1v1h-1zM114 246h1v1h-1zM384 244h1v3h-1zM398 246h2v1h-2zM424 246h1v1h-1zM438 246h2v1h-2zM441 246h3v1h-3zM477 245h1v2h-1zM483 246h1v1h-1zM532 243h1v4h-1zM559 246h1v1h-1zM600 246h2v1h-2zM605 246h1v1h-1zM115 247h3v1h-3zM240 152h1v96h-1zM398 247h1v1h-1zM420 245h1v3h-1zM422 246h1v2h-1zM424 247h2v1h-2zM438 247h1v1h-1zM476 247h2v1h-2zM481 246h1v2h-1zM496 246h1v2h-1zM514 246h1v2h-1zM556 247h1v1h-1zM558 247h1v1h-1zM561 246h1v2h-1zM601 247h1v1h-1zM609 245h2v3h-2zM92 245h1v4h-1zM117 248h1v1h-1zM385 247h2v2h-2zM421 248h1v1h-1zM426 248h2v1h-2zM440 247h1v2h-1zM444 247h1v2h-1zM476 248h1v1h-1zM497 248h1v1h-1zM554 248h2v1h-2zM557 248h2v1h-2zM599 247h1v2h-1zM387 249h1v1h-1zM389 249h3v1h-3zM396 248h2v2h-2zM428 249h3v1h-3zM437 248h1v2h-1zM445 249h1v1h-1zM474 249h3v1h-3zM478 248h1v2h-1zM480 248h1v2h-1zM497 249h2v1h-2zM512 248h2v2h-2zM533 247h1v3h-1zM554 249h1v1h-1zM562 248h1v2h-1zM118 249h1v2h-1zM387 250h2v1h-2zM392 250h2v1h-2zM428 250h1v1h-1zM431 250h1v1h-1zM433 250h1v1h-1zM435 250h2v1h-2zM479 250h2v1h-2zM499 250h1v1h-1zM513 250h1v1h-1zM534 250h1v1h-1zM563 250h1v1h-1zM598 249h1v2h-1zM609 248h1v3h-1zM118 251h2v1h-2zM393 251h1v1h-1zM395 250h1v2h-1zM432 251h1v1h-1zM446 250h1v2h-1zM448 251h1v1h-1zM450 251h1v1h-1zM473 250h1v2h-1zM479 251h1v1h-1zM500 251h1v1h-1zM509 251h1v1h-1zM511 250h1v2h-1zM535 251h3v1h-3zM553 250h1v2h-1zM597 251h1v1h-1zM119 252h1v1h-1zM394 252h2v1h-2zM434 251h1v2h-1zM447 252h1v1h-1zM449 252h1v1h-1zM451 252h1v1h-1zM500 252h2v1h-2zM509 252h3v1h-3zM537 252h1v1h-1zM552 252h2v1h-2zM564 251h1v2h-1zM586 252h1v1h-1zM588 251h1v2h-1zM596 252h1v1h-1zM91 249h1v5h-1zM119 253h2v1h-2zM394 253h1v1h-1zM452 253h1v1h-1zM469 253h1v1h-1zM472 252h1v2h-1zM501 253h1v1h-1zM503 253h1v1h-1zM510 253h1v1h-1zM548 253h1v1h-1zM552 253h1v1h-1zM584 253h1v1h-1zM586 253h2v1h-2zM611 248h1v6h-1zM468 254h1v1h-1zM470 254h2v1h-2zM504 254h1v1h-1zM506 253h1v2h-1zM508 253h1v2h-1zM538 253h1v2h-1zM547 254h2v1h-2zM550 254h2v1h-2zM565 253h1v2h-1zM583 254h1v1h-1zM587 254h1v1h-1zM619 254h2v1h-2zM453 254h1v2h-1zM465 255h1v1h-1zM467 255h1v1h-1zM502 254h1v2h-1zM504 255h2v1h-2zM538 255h2v1h-2zM547 255h1v1h-1zM551 255h1v1h-1zM565 255h2v1h-2zM577 255h1v1h-1zM581 255h2v1h-2zM585 254h1v2h-1zM595 253h1v3h-1zM615 255h1v1h-1zM619 255h1v1h-1zM120 254h1v3h-1zM454 256h1v1h-1zM466 256h2v1h-2zM505 256h1v1h-1zM507 255h1v2h-1zM546 256h1v1h-1zM549 255h1v2h-1zM567 256h2v1h-2zM578 256h3v1h-3zM582 256h1v1h-1zM589 253h1v4h-1zM612 254h1v3h-1zM615 256h4v1h-4zM454 257h2v1h-2zM544 257h3v1h-3zM567 257h1v1h-1zM576 256h1v2h-1zM612 257h3v1h-3zM618 257h1v1h-1zM90 254h1v5h-1zM464 256h1v3h-1zM540 256h1v3h-1zM569 257h1v2h-1zM614 258h1v1h-1zM121 257h1v3h-1zM456 258h1v2h-1zM458 259h1v1h-1zM462 259h2v1h-2zM541 259h1v1h-1zM543 258h1v2h-1zM570 259h1v1h-1zM575 258h1v2h-1zM594 256h1v4h-1zM457 260h2v1h-2zM460 260h2v1h-2zM463 260h1v1h-1zM541 260h2v1h-2zM571 260h1v1h-1zM574 260h1v1h-1zM542 261h1v1h-1zM89 259h1v4h-1zM459 261h1v2h-1zM572 261h2v2h-2zM122 260h1v4h-1zM590 257h1v7h-1zM88 263h1v2h-1zM87 265h2v1h-2zM591 264h1v2h-1zM593 260h1v6h-1zM87 266h1v1h-1zM123 264h1v3h-1zM85 267h2v1h-2zM86 268h1v1h-1zM55 268h1v2h-1zM152 269h1v1h-1zM591 266h2v4h-2zM56 270h1v1h-1zM84 268h1v3h-1zM124 267h1v4h-1zM151 270h2v1h-2zM56 271h2v1h-2zM150 271h1v1h-1zM152 271h1v1h-1zM83 271h1v2h-1zM149 272h1v1h-1zM592 270h1v3h-1zM58 272h1v2h-1zM148 273h1v1h-1zM125 271h1v4h-1zM147 274h2v1h-2zM153 272h1v3h-1zM59 274h2v2h-2zM62 275h1v1h-1zM125 275h2v1h-2zM153 275h3v1h-3zM59 276h1v1h-1zM61 276h2v1h-2zM69 276h2v1h-2zM82 273h1v4h-1zM126 276h1v1h-1zM146 275h1v2h-1zM61 277h1v1h-1zM63 277h2v1h-2zM66 277h1v1h-1zM69 277h1v1h-1zM71 277h1v1h-1zM63 278h1v1h-1zM71 278h2v1h-2zM126 277h2v2h-2zM145 277h1v2h-1zM65 278h1v2h-1zM67 278h2v2h-2zM72 279h1v1h-1zM143 279h3v1h-3zM81 277h1v4h-1zM128 279h1v2h-1zM143 280h1v1h-1zM156 276h1v5h-1zM73 280h1v2h-1zM74 282h1v2h-1zM80 281h1v3h-1zM129 281h1v3h-1zM142 281h1v3h-1zM75 284h1v2h-1zM77 285h1v1h-1zM141 284h1v2h-1zM157 281h1v5h-1zM76 286h2v1h-2zM79 284h1v3h-1zM130 284h1v4h-1zM140 286h1v2h-1zM78 287h1v2h-1zM239 248h1v42h-1zM139 288h1v4h-1zM158 286h1v6h-1zM138 292h1v3h-1zM131 288h1v8h-1zM159 292h1v4h-1zM132 296h1v1h-1zM137 295h1v4h-1zM133 297h1v3h-1zM136 299h1v1h-1zM134 300h3v1h-3zM179 300h1v1h-1zM134 301h1v1h-1zM160 296h1v7h-1zM179 301h2v3h-2zM166 305h1v1h-1zM165 306h2v1h-2zM165 307h1v1h-1zM167 307h1v1h-1zM167 308h2v1h-2zM161 303h1v7h-1zM168 309h1v1h-1zM162 310h1v1h-1zM164 308h1v3h-1zM178 304h1v7h-1zM169 310h1v2h-1zM162 311h2v2h-2zM170 312h1v4h-1zM180 304h1v12h-1zM177 311h1v6h-1zM171 316h1v4h-1zM176 317h1v5h-1zM187 321h1v1h-1zM192 320h1v2h-1zM172 320h1v3h-1zM187 322h2v1h-2zM191 322h2v1h-2zM173 323h1v1h-1zM175 322h1v2h-1zM181 316h1v8h-1zM184 323h1v1h-1zM186 323h1v1h-1zM188 323h1v1h-1zM191 323h1v1h-1zM193 323h1v1h-1zM182 324h1v1h-1zM184 324h3v1h-3zM189 324h2v1h-2zM193 324h2v1h-2zM197 324h1v1h-1zM174 324h1v2h-1zM182 325h2v1h-2zM186 325h1v1h-1zM189 325h1v1h-1zM193 325h1v1h-1zM195 325h2v1h-2zM198 325h1v1h-1zM196 326h1v1h-1zM199 326h1v1h-1zM183 326h1v2h-1zM200 327h1v2h-1zM238 290h1v40h-1zM201 329h2v2h-2zM203 331h1v4h-1zM204 335h1v4h-1zM205 339h1v5h-1zM206 344h1v6h-1zM207 350h1v5h-1zM208 355h1v5h-1zM209 360h1v4h-1zM210 364h1v4h-1zM237 330h1v38h-1zM211 368h1v4h-1zM212 372h1v5h-1zM219 380h1v1h-1zM213 377h1v5h-1zM218 381h2v2h-2zM214 382h1v2h-1zM218 383h1v1h-1zM215 384h1v3h-1zM217 384h1v3h-1zM216 387h1v2h-1zM220 383h1v7h-1zM221 390h1v18h-1zM236 368h1v40h-1zM222 408h1v8h-1zM235 408h1v34h-1zM223 416h1v31h-1zM224 447h1v6h-1zM234 442h1v11h-1z"/><path fill="#000" d="M321 15h1v1h-1zM325 15h5v1h-5zM332 15h3v1h-3zM339 15h1v1h-1zM351 15h1v1h-1zM356 15h3v1h-3zM320 16h2v1h-2zM329 16h1v1h-1zM331 16h1v1h-1zM338 16h1v1h-1zM340 16h1v1h-1zM350 16h2v1h-2zM313 17h2v1h-2zM316 17h1v1h-1zM319 17h1v1h-1zM335 16h1v2h-1zM349 17h1v1h-1zM355 16h1v2h-1zM359 16h1v2h-1zM328 17h1v2h-1zM334 18h1v1h-1zM356 18h3v1h-3zM333 19h1v1h-1zM327 19h1v2h-1zM332 20h1v1h-1zM337 17h1v4h-1zM341 17h1v4h-1zM315 18h1v4h-1zM321 17h1v5h-1zM331 21h1v1h-1zM338 21h1v1h-1zM340 21h1v1h-1zM351 17h1v5h-1zM355 19h1v3h-1zM359 19h1v3h-1zM313 18h1v5h-1zM317 18h1v5h-1zM319 22h5v1h-5zM326 21h1v2h-1zM331 22h5v1h-5zM339 22h1v1h-1zM349 22h5v1h-5zM356 22h3v1h-3zM343 23h5v1h-5zM20 35h1v1h-1zM24 35h5v1h-5zM32 35h1v1h-1zM38 35h1v1h-1zM44 35h1v1h-1zM19 36h2v1h-2zM24 36h1v1h-1zM31 36h1v1h-1zM33 36h1v1h-1zM37 36h1v1h-1zM39 36h1v1h-1zM43 36h1v1h-1zM45 36h1v1h-1zM18 37h1v1h-1zM24 37h4v1h-4zM24 38h1v1h-1zM54 38h568v1h-568zM30 37h1v4h-1zM34 37h1v4h-1zM36 37h1v4h-1zM40 37h1v4h-1zM42 37h1v4h-1zM46 37h1v4h-1zM20 37h1v5h-1zM24 41h1v1h-1zM28 38h1v4h-1zM31 41h1v1h-1zM33 41h1v1h-1zM37 41h1v1h-1zM39 41h1v1h-1zM43 41h1v1h-1zM45 41h1v1h-1zM18 42h5v1h-5zM25 42h3v1h-3zM32 42h1v1h-1zM38 42h1v1h-1zM44 42h1v1h-1zM159 39h1v4h-1zM264 39h1v4h-1zM369 39h1v4h-1zM474 39h1v4h-1zM579 39h1v4h-1zM540 45h2v1h-2zM547 45h1v1h-1zM571 45h1v1h-1zM570 46h2v1h-2zM546 47h2v1h-2zM551 47h1v1h-1zM553 47h2v1h-2zM558 47h3v1h-3zM569 47h1v1h-1zM551 48h2v1h-2zM557 48h1v1h-1zM561 48h1v1h-1zM557 49h5v1h-5zM541 46h1v6h-1zM547 48h1v4h-1zM557 50h1v2h-1zM571 47h1v5h-1zM540 52h3v1h-3zM546 52h3v1h-3zM551 49h1v4h-1zM555 48h1v5h-1zM558 52h3v1h-3zM569 52h5v1h-5zM540 58h2v1h-2zM547 58h1v1h-1zM570 58h3v1h-3zM569 59h1v1h-1zM546 60h2v1h-2zM551 60h1v1h-1zM553 60h2v1h-2zM558 60h3v1h-3zM573 59h1v2h-1zM551 61h2v1h-2zM557 61h1v1h-1zM561 61h1v1h-1zM572 61h1v1h-1zM557 62h5v1h-5zM571 62h1v1h-1zM570 63h1v1h-1zM541 59h1v6h-1zM547 61h1v4h-1zM557 63h1v2h-1zM569 64h1v1h-1zM540 65h3v1h-3zM546 65h3v1h-3zM551 62h1v4h-1zM555 61h1v5h-1zM558 65h3v1h-3zM569 65h5v1h-5zM540 71h2v1h-2zM547 71h1v1h-1zM570 71h3v1h-3zM569 72h1v1h-1zM546 73h2v1h-2zM551 73h1v1h-1zM553 73h2v1h-2zM558 73h3v1h-3zM573 72h1v2h-1zM551 74h2v1h-2zM557 74h1v1h-1zM561 74h1v1h-1zM571 74h2v1h-2zM557 75h5v1h-5zM541 72h1v6h-1zM547 74h1v4h-1zM557 76h1v2h-1zM569 77h1v1h-1zM573 75h1v3h-1zM540 78h3v1h-3zM546 78h3v1h-3zM551 75h1v4h-1zM555 74h1v5h-1zM558 78h3v1h-3zM570 78h3v1h-3zM540 84h2v1h-2zM547 84h1v1h-1zM572 84h1v1h-1zM571 85h2v1h-2zM546 86h2v1h-2zM551 86h1v1h-1zM553 86h2v1h-2zM558 86h3v1h-3zM570 86h1v1h-1zM551 87h2v1h-2zM557 87h1v1h-1zM561 87h1v1h-1zM557 88h5v1h-5zM569 87h1v2h-1zM572 86h1v3h-1zM569 89h5v1h-5zM541 85h1v6h-1zM547 87h1v4h-1zM557 89h1v2h-1zM540 91h3v1h-3zM546 91h3v1h-3zM551 88h1v4h-1zM555 87h1v5h-1zM558 91h3v1h-3zM572 90h1v2h-1zM540 97h2v1h-2zM547 97h1v1h-1zM569 97h5v1h-5zM569 98h1v1h-1zM546 99h2v1h-2zM551 99h1v1h-1zM553 99h2v1h-2zM558 99h3v1h-3zM569 99h4v1h-4zM551 100h2v1h-2zM557 100h1v1h-1zM561 100h1v1h-1zM569 100h1v1h-1zM557 101h5v1h-5zM541 98h1v6h-1zM547 100h1v4h-1zM557 102h1v2h-1zM569 103h1v1h-1zM573 100h1v4h-1zM20 104h1v1h-1zM26 104h1v1h-1zM32 104h1v1h-1zM38 104h1v1h-1zM44 104h1v1h-1zM540 104h3v1h-3zM546 104h3v1h-3zM551 101h1v4h-1zM555 100h1v5h-1zM558 104h3v1h-3zM570 104h3v1h-3zM19 105h2v1h-2zM25 105h1v1h-1zM27 105h1v1h-1zM31 105h1v1h-1zM33 105h1v1h-1zM37 105h1v1h-1zM39 105h1v1h-1zM43 105h1v1h-1zM45 105h1v1h-1zM18 106h1v1h-1zM54 39h1v68h-1zM621 39h1v68h-1zM54 107h5v1h-5zM617 107h5v1h-5zM24 106h1v4h-1zM28 106h1v4h-1zM30 106h1v4h-1zM34 106h1v4h-1zM36 106h1v4h-1zM40 106h1v4h-1zM42 106h1v4h-1zM46 106h1v4h-1zM20 106h1v5h-1zM25 110h1v1h-1zM27 110h1v1h-1zM31 110h1v1h-1zM33 110h1v1h-1zM37 110h1v1h-1zM39 110h1v1h-1zM43 110h1v1h-1zM45 110h1v1h-1zM18 111h5v1h-5zM26 111h1v1h-1zM32 111h1v1h-1zM38 111h1v1h-1zM44 111h1v1h-1zM24 173h5v1h-5zM32 173h1v1h-1zM38 173h1v1h-1zM44 173h1v1h-1zM24 174h1v1h-1zM31 174h1v1h-1zM33 174h1v1h-1zM37 174h1v1h-1zM39 174h1v1h-1zM43 174h1v1h-1zM45 174h1v1h-1zM24 175h4v1h-4zM54 108h1v68h-1zM621 108h1v68h-1zM24 176h1v1h-1zM54 176h5v1h-5zM617 176h5v1h-5zM30 175h1v4h-1zM34 175h1v4h-1zM36 175h1v4h-1zM40 175h1v4h-1zM42 175h1v4h-1zM46 175h1v4h-1zM24 179h1v1h-1zM28 176h1v4h-1zM31 179h1v1h-1zM33 179h1v1h-1zM37 179h1v1h-1zM39 179h1v1h-1zM43 179h1v1h-1zM45 179h1v1h-1zM25 180h3v1h-3zM32 180h1v1h-1zM38 180h1v1h-1zM44 180h1v1h-1zM44 243h1v1h-1zM43 244h1v1h-1zM45 244h1v1h-1zM54 177h1v69h-1zM621 177h1v69h-1zM54 246h5v1h-5zM617 246h5v1h-5zM42 245h1v4h-1zM46 245h1v4h-1zM43 249h1v1h-1zM45 249h1v1h-1zM44 250h1v1h-1zM24 312h5v1h-5zM32 312h1v1h-1zM38 312h1v1h-1zM44 312h1v1h-1zM24 313h1v1h-1zM31 313h1v1h-1zM33 313h1v1h-1zM37 313h1v1h-1zM39 313h1v1h-1zM43 313h1v1h-1zM45 313h1v1h-1zM24 314h4v1h-4zM54 247h1v68h-1zM621 247h1v68h-1zM24 315h1v1h-1zM54 315h5v1h-5zM617 315h5v1h-5zM18 316h5v1h-5zM30 314h1v4h-1zM34 314h1v4h-1zM36 314h1v4h-1zM40 314h1v4h-1zM42 314h1v4h-1zM46 314h1v4h-1zM24 318h1v1h-1zM28 315h1v4h-1zM31 318h1v1h-1zM33 318h1v1h-1zM37 318h1v1h-1zM39 318h1v1h-1zM43 318h1v1h-1zM45 318h1v1h-1zM25 319h3v1h-3zM32 319h1v1h-1zM38 319h1v1h-1zM44 319h1v1h-1zM20 381h1v1h-1zM26 381h1v1h-1zM32 381h1v1h-1zM38 381h1v1h-1zM44 381h1v1h-1zM19 382h2v1h-2zM25 382h1v1h-1zM27 382h1v1h-1zM31 382h1v1h-1zM33 382h1v1h-1zM37 382h1v1h-1zM39 382h1v1h-1zM43 382h1v1h-1zM45 382h1v1h-1zM18 383h1v1h-1zM54 316h1v68h-1zM621 316h1v68h-1zM54 384h5v1h-5zM617 384h5v1h-5zM12 385h5v1h-5zM24 383h1v4h-1zM28 383h1v4h-1zM30 383h1v4h-1zM34 383h1v4h-1zM36 383h1v4h-1zM40 383h1v4h-1zM42 383h1v4h-1zM46 383h1v4h-1zM20 383h1v5h-1zM25 387h1v1h-1zM27 387h1v1h-1zM31 387h1v1h-1zM33 387h1v1h-1zM37 387h1v1h-1zM39 387h1v1h-1zM43 387h1v1h-1zM45 387h1v1h-1zM18 388h5v1h-5zM26 388h1v1h-1zM32 388h1v1h-1zM38 388h1v1h-1zM44 388h1v1h-1zM20 450h1v1h-1zM24 450h5v1h-5zM32 450h1v1h-1zM38 450h1v1h-1zM44 450h1v1h-1zM19 451h2v1h-2zM24 451h1v1h-1zM31 451h1v1h-1zM33 451h1v1h-1zM37 451h1v1h-1zM39 451h1v1h-1zM43 451h1v1h-1zM45 451h1v1h-1zM18 452h1v1h-1zM24 452h4v1h-4zM54 385h1v68h-1zM159 449h1v4h-1zM264 449h1v4h-1zM369 449h1v4h-1zM474 449h1v4h-1zM579 449h1v4h-1zM621 385h1v68h-1zM24 453h1v1h-1zM54 453h568v1h-568zM12 454h5v1h-5zM30 452h1v4h-1zM34 452h1v4h-1zM36 452h1v4h-1zM40 452h1v4h-1zM42 452h1v4h-1zM46 452h1v4h-1zM20 452h1v5h-1zM24 456h1v1h-1zM28 453h1v4h-1zM31 456h1v1h-1zM33 456h1v1h-1zM37 456h1v1h-1zM39 456h1v1h-1zM43 456h1v1h-1zM45 456h1v1h-1zM18 457h5v1h-5zM25 457h3v1h-3zM32 457h1v1h-1zM38 457h1v1h-1zM44 457h1v1h-1zM56 463h1v1h-1zM155 463h1v1h-1zM161 463h1v1h-1zM167 463h1v1h-1zM259 463h3v1h-3zM266 463h1v1h-1zM272 463h1v1h-1zM364 463h3v1h-3zM371 463h1v1h-1zM377 463h1v1h-1zM471 463h1v1h-1zM476 463h1v1h-1zM482 463h1v1h-1zM573 463h5v1h-5zM581 463h1v1h-1zM587 463h1v1h-1zM55 464h1v1h-1zM57 464h1v1h-1zM154 464h2v1h-2zM160 464h1v1h-1zM162 464h1v1h-1zM166 464h1v1h-1zM168 464h1v1h-1zM258 464h1v1h-1zM265 464h1v1h-1zM267 464h1v1h-1zM271 464h1v1h-1zM273 464h1v1h-1zM363 464h1v1h-1zM370 464h1v1h-1zM372 464h1v1h-1zM376 464h1v1h-1zM378 464h1v1h-1zM470 464h2v1h-2zM475 464h1v1h-1zM477 464h1v1h-1zM481 464h1v1h-1zM483 464h1v1h-1zM573 464h1v1h-1zM580 464h1v1h-1zM582 464h1v1h-1zM586 464h1v1h-1zM588 464h1v1h-1zM153 465h1v1h-1zM262 464h1v2h-1zM367 464h1v2h-1zM469 465h1v1h-1zM573 465h4v1h-4zM261 466h1v1h-1zM365 466h2v1h-2zM573 466h1v1h-1zM260 467h1v1h-1zM468 466h1v2h-1zM471 465h1v3h-1zM54 465h1v4h-1zM58 465h1v4h-1zM159 465h1v4h-1zM163 465h1v4h-1zM165 465h1v4h-1zM169 465h1v4h-1zM259 468h1v1h-1zM264 465h1v4h-1zM268 465h1v4h-1zM270 465h1v4h-1zM274 465h1v4h-1zM369 465h1v4h-1zM373 465h1v4h-1zM375 465h1v4h-1zM379 465h1v4h-1zM468 468h5v1h-5zM474 465h1v4h-1zM478 465h1v4h-1zM480 465h1v4h-1zM484 465h1v4h-1zM579 465h1v4h-1zM583 465h1v4h-1zM585 465h1v4h-1zM589 465h1v4h-1zM55 469h1v1h-1zM57 469h1v1h-1zM155 465h1v5h-1zM160 469h1v1h-1zM162 469h1v1h-1zM166 469h1v1h-1zM168 469h1v1h-1zM258 469h1v1h-1zM265 469h1v1h-1zM267 469h1v1h-1zM271 469h1v1h-1zM273 469h1v1h-1zM363 469h1v1h-1zM367 467h1v3h-1zM370 469h1v1h-1zM372 469h1v1h-1zM376 469h1v1h-1zM378 469h1v1h-1zM475 469h1v1h-1zM477 469h1v1h-1zM481 469h1v1h-1zM483 469h1v1h-1zM573 469h1v1h-1zM577 466h1v4h-1zM580 469h1v1h-1zM582 469h1v1h-1zM586 469h1v1h-1zM588 469h1v1h-1zM56 470h1v1h-1zM153 470h5v1h-5zM161 470h1v1h-1zM167 470h1v1h-1zM258 470h5v1h-5zM266 470h1v1h-1zM272 470h1v1h-1zM364 470h3v1h-3zM371 470h1v1h-1zM377 470h1v1h-1zM471 469h1v2h-1zM476 470h1v1h-1zM482 470h1v1h-1zM574 470h3v1h-3zM581 470h1v1h-1zM587 470h1v1h-1z"/></svg></body></html>
